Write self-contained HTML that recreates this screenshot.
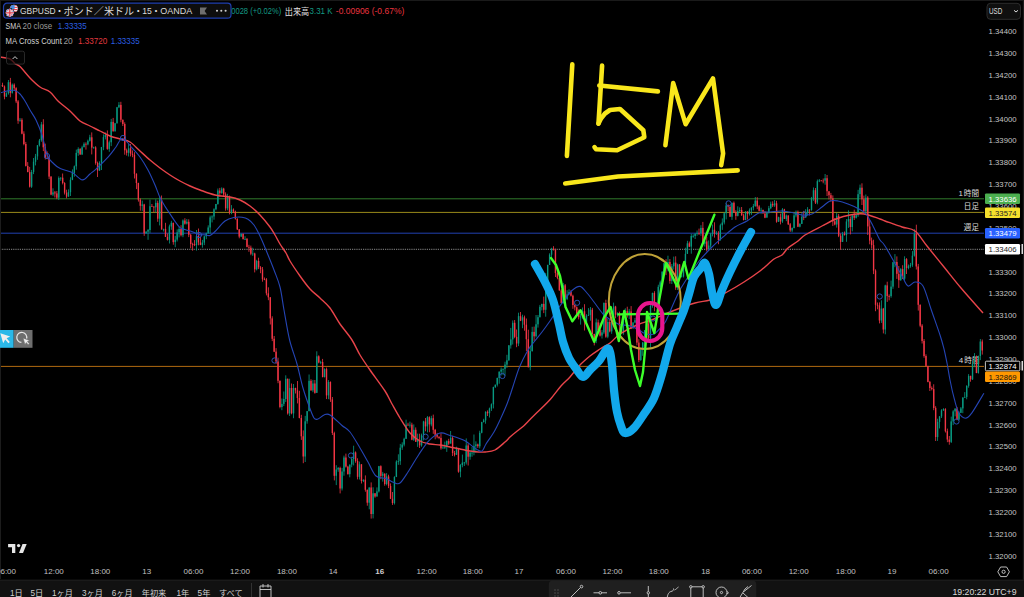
<!DOCTYPE html>
<html><head><meta charset="utf-8">
<style>
*{margin:0;padding:0;box-sizing:border-box}
html,body{width:1024px;height:597px;overflow:hidden;background:#000}
body{position:relative;font-family:"Liberation Sans","Noto Sans CJK JP",sans-serif;color:#d1d4dc}
svg{position:absolute;left:0;top:0}
.t{font-family:"Liberation Sans","Noto Sans CJK JP",sans-serif}
</style></head><body>
<svg width="1024" height="597" viewBox="0 0 1024 597">
<rect x="0" y="0" width="1024" height="597" fill="#000"/>
<line x1="0" y1="198.8" x2="984" y2="198.8" stroke="#2f7a2c" stroke-width="1"/>
<line x1="0" y1="212.4" x2="984" y2="212.4" stroke="#9a8a1a" stroke-width="1"/>
<line x1="0" y1="233.2" x2="984" y2="233.2" stroke="#2041b0" stroke-width="1"/>
<line x1="0" y1="249.3" x2="984" y2="249.3" stroke="#8a8a8a" stroke-width="1" stroke-dasharray="1.2 1"/>
<line x1="0" y1="366.4" x2="984" y2="366.4" stroke="#b06a10" stroke-width="1"/>
<g class="t" font-size="7.6" fill="#dcdcdc" text-anchor="end">
<text x="979" y="195.6">時間</text><text x="963" y="195.6" font-size="8">1</text>
<text x="979" y="208.8">日足</text>
<text x="979" y="229.8">週足</text>
<text x="979.5" y="363.2">時間</text><text x="963.3" y="363.2" font-size="8">4</text>
</g>
<g><rect x="0.20" y="83.8" width="0.8" height="2.8" fill="#089981"/><rect x="-0.10" y="85.1" width="1.4" height="0.9" fill="#089981"/><rect x="2.14" y="82.7" width="0.8" height="4.3" fill="#f23645"/><rect x="1.84" y="85.1" width="1.4" height="1.4" fill="#f23645"/><rect x="4.08" y="85.5" width="0.8" height="13.8" fill="#f23645"/><rect x="3.78" y="86.5" width="1.4" height="10.1" fill="#f23645"/><rect x="6.02" y="92.3" width="0.8" height="4.7" fill="#089981"/><rect x="5.72" y="93.3" width="1.4" height="3.3" fill="#089981"/><rect x="7.96" y="80.0" width="0.8" height="14.6" fill="#089981"/><rect x="7.66" y="82.2" width="1.4" height="11.1" fill="#089981"/><rect x="9.90" y="77.9" width="0.8" height="19.4" fill="#f23645"/><rect x="9.60" y="82.2" width="1.4" height="10.7" fill="#f23645"/><rect x="11.84" y="83.5" width="0.8" height="10.1" fill="#089981"/><rect x="11.54" y="84.7" width="1.4" height="8.1" fill="#089981"/><rect x="13.78" y="83.4" width="0.8" height="6.5" fill="#f23645"/><rect x="13.48" y="84.7" width="1.4" height="3.5" fill="#f23645"/><rect x="15.72" y="87.2" width="0.8" height="15.9" fill="#f23645"/><rect x="15.42" y="88.2" width="1.4" height="13.2" fill="#f23645"/><rect x="17.66" y="100.0" width="0.8" height="23.8" fill="#f23645"/><rect x="17.36" y="101.4" width="1.4" height="19.3" fill="#f23645"/><rect x="19.60" y="118.0" width="0.8" height="3.7" fill="#089981"/><rect x="19.30" y="119.8" width="1.4" height="0.9" fill="#089981"/><rect x="21.54" y="118.2" width="0.8" height="16.1" fill="#f23645"/><rect x="21.24" y="119.8" width="1.4" height="13.9" fill="#f23645"/><rect x="23.48" y="131.3" width="0.8" height="14.0" fill="#f23645"/><rect x="23.18" y="133.7" width="1.4" height="10.3" fill="#f23645"/><rect x="25.42" y="141.9" width="0.8" height="24.6" fill="#f23645"/><rect x="25.12" y="144.0" width="1.4" height="21.9" fill="#f23645"/><rect x="27.36" y="162.1" width="0.8" height="10.1" fill="#f23645"/><rect x="27.06" y="165.9" width="1.4" height="6.2" fill="#f23645"/><rect x="29.30" y="166.9" width="0.8" height="20.6" fill="#f23645"/><rect x="29.00" y="172.1" width="1.4" height="14.6" fill="#f23645"/><rect x="31.24" y="169.9" width="0.8" height="18.0" fill="#089981"/><rect x="30.94" y="172.0" width="1.4" height="14.7" fill="#089981"/><rect x="33.18" y="158.0" width="0.8" height="16.1" fill="#089981"/><rect x="32.88" y="161.7" width="1.4" height="10.2" fill="#089981"/><rect x="35.12" y="153.9" width="0.8" height="11.5" fill="#089981"/><rect x="34.82" y="156.4" width="1.4" height="5.4" fill="#089981"/><rect x="37.06" y="145.0" width="0.8" height="14.8" fill="#089981"/><rect x="36.76" y="145.3" width="1.4" height="11.1" fill="#089981"/><rect x="39.00" y="138.9" width="0.8" height="7.6" fill="#089981"/><rect x="38.70" y="140.5" width="1.4" height="4.8" fill="#089981"/><rect x="40.94" y="121.9" width="0.8" height="19.9" fill="#089981"/><rect x="40.64" y="124.4" width="1.4" height="16.0" fill="#089981"/><rect x="42.88" y="119.2" width="0.8" height="31.9" fill="#f23645"/><rect x="42.58" y="124.4" width="1.4" height="22.9" fill="#f23645"/><rect x="44.82" y="143.6" width="0.8" height="15.9" fill="#f23645"/><rect x="44.52" y="147.3" width="1.4" height="10.6" fill="#f23645"/><rect x="46.76" y="151.4" width="0.8" height="7.8" fill="#f23645"/><rect x="46.46" y="157.9" width="1.4" height="0.8" fill="#f23645"/><rect x="48.70" y="155.4" width="0.8" height="23.7" fill="#f23645"/><rect x="48.40" y="158.3" width="1.4" height="18.3" fill="#f23645"/><rect x="50.64" y="176.2" width="0.8" height="19.0" fill="#f23645"/><rect x="50.34" y="176.6" width="1.4" height="18.0" fill="#f23645"/><rect x="52.58" y="188.3" width="0.8" height="7.8" fill="#089981"/><rect x="52.28" y="192.4" width="1.4" height="2.1" fill="#089981"/><rect x="54.52" y="191.0" width="0.8" height="6.5" fill="#f23645"/><rect x="54.22" y="192.4" width="1.4" height="1.0" fill="#f23645"/><rect x="56.46" y="191.0" width="0.8" height="8.2" fill="#f23645"/><rect x="56.16" y="193.4" width="1.4" height="4.3" fill="#f23645"/><rect x="58.40" y="176.4" width="0.8" height="23.6" fill="#089981"/><rect x="58.10" y="178.0" width="1.4" height="19.7" fill="#089981"/><rect x="60.34" y="177.3" width="0.8" height="3.5" fill="#089981"/><rect x="60.04" y="177.7" width="1.4" height="0.8" fill="#089981"/><rect x="62.28" y="173.5" width="0.8" height="10.9" fill="#f23645"/><rect x="61.98" y="177.7" width="1.4" height="5.3" fill="#f23645"/><rect x="64.22" y="182.2" width="0.8" height="12.3" fill="#f23645"/><rect x="63.92" y="183.0" width="1.4" height="9.7" fill="#f23645"/><rect x="66.16" y="189.7" width="0.8" height="8.6" fill="#f23645"/><rect x="65.86" y="192.7" width="1.4" height="3.9" fill="#f23645"/><rect x="68.10" y="189.4" width="0.8" height="7.3" fill="#089981"/><rect x="67.80" y="192.1" width="1.4" height="4.5" fill="#089981"/><rect x="70.04" y="177.3" width="0.8" height="18.7" fill="#089981"/><rect x="69.74" y="179.8" width="1.4" height="12.4" fill="#089981"/><rect x="71.98" y="169.4" width="0.8" height="10.8" fill="#089981"/><rect x="71.68" y="173.0" width="1.4" height="6.8" fill="#089981"/><rect x="73.92" y="165.5" width="0.8" height="11.2" fill="#089981"/><rect x="73.62" y="166.3" width="1.4" height="6.7" fill="#089981"/><rect x="75.86" y="149.6" width="0.8" height="20.1" fill="#089981"/><rect x="75.56" y="152.9" width="1.4" height="13.4" fill="#089981"/><rect x="77.80" y="147.3" width="0.8" height="8.5" fill="#089981"/><rect x="77.50" y="149.0" width="1.4" height="3.9" fill="#089981"/><rect x="79.74" y="148.1" width="0.8" height="6.7" fill="#f23645"/><rect x="79.44" y="149.0" width="1.4" height="5.5" fill="#f23645"/><rect x="81.68" y="145.7" width="0.8" height="9.2" fill="#089981"/><rect x="81.38" y="147.3" width="1.4" height="7.2" fill="#089981"/><rect x="83.62" y="142.3" width="0.8" height="5.0" fill="#089981"/><rect x="83.32" y="143.8" width="1.4" height="3.4" fill="#089981"/><rect x="85.56" y="142.3" width="0.8" height="7.3" fill="#f23645"/><rect x="85.26" y="143.8" width="1.4" height="0.8" fill="#f23645"/><rect x="87.50" y="139.6" width="0.8" height="5.7" fill="#089981"/><rect x="87.20" y="140.8" width="1.4" height="3.6" fill="#089981"/><rect x="89.44" y="134.8" width="0.8" height="6.8" fill="#089981"/><rect x="89.14" y="137.3" width="1.4" height="3.5" fill="#089981"/><rect x="91.38" y="132.4" width="0.8" height="22.0" fill="#f23645"/><rect x="91.08" y="137.3" width="1.4" height="10.3" fill="#f23645"/><rect x="93.32" y="146.7" width="0.8" height="1.9" fill="#089981"/><rect x="93.02" y="147.4" width="1.4" height="0.8" fill="#089981"/><rect x="95.26" y="146.2" width="0.8" height="18.5" fill="#f23645"/><rect x="94.96" y="147.4" width="1.4" height="15.6" fill="#f23645"/><rect x="97.20" y="161.6" width="0.8" height="15.4" fill="#f23645"/><rect x="96.90" y="163.0" width="1.4" height="7.5" fill="#f23645"/><rect x="99.14" y="161.3" width="0.8" height="9.5" fill="#089981"/><rect x="98.84" y="162.8" width="1.4" height="7.7" fill="#089981"/><rect x="101.08" y="146.9" width="0.8" height="23.1" fill="#089981"/><rect x="100.78" y="147.1" width="1.4" height="15.7" fill="#089981"/><rect x="103.02" y="134.4" width="0.8" height="15.8" fill="#089981"/><rect x="102.72" y="137.1" width="1.4" height="10.0" fill="#089981"/><rect x="104.96" y="132.4" width="0.8" height="7.0" fill="#089981"/><rect x="104.66" y="135.0" width="1.4" height="2.1" fill="#089981"/><rect x="106.90" y="130.4" width="0.8" height="19.4" fill="#f23645"/><rect x="106.60" y="135.0" width="1.4" height="13.9" fill="#f23645"/><rect x="108.84" y="140.6" width="0.8" height="11.2" fill="#089981"/><rect x="108.54" y="142.3" width="1.4" height="6.6" fill="#089981"/><rect x="110.78" y="118.9" width="0.8" height="27.2" fill="#089981"/><rect x="110.48" y="121.9" width="1.4" height="20.4" fill="#089981"/><rect x="112.72" y="117.9" width="0.8" height="13.8" fill="#f23645"/><rect x="112.42" y="121.9" width="1.4" height="9.3" fill="#f23645"/><rect x="114.66" y="122.9" width="0.8" height="8.8" fill="#089981"/><rect x="114.36" y="123.3" width="1.4" height="7.9" fill="#089981"/><rect x="116.60" y="106.9" width="0.8" height="16.6" fill="#089981"/><rect x="116.30" y="107.3" width="1.4" height="16.0" fill="#089981"/><rect x="118.54" y="102.1" width="0.8" height="6.0" fill="#089981"/><rect x="118.24" y="104.9" width="1.4" height="2.4" fill="#089981"/><rect x="120.48" y="101.8" width="0.8" height="20.5" fill="#f23645"/><rect x="120.18" y="104.9" width="1.4" height="14.9" fill="#f23645"/><rect x="122.42" y="119.5" width="0.8" height="6.5" fill="#f23645"/><rect x="122.12" y="119.8" width="1.4" height="4.2" fill="#f23645"/><rect x="124.36" y="122.3" width="0.8" height="32.4" fill="#f23645"/><rect x="124.06" y="124.0" width="1.4" height="26.3" fill="#f23645"/><rect x="126.30" y="148.6" width="0.8" height="7.0" fill="#f23645"/><rect x="126.00" y="150.3" width="1.4" height="2.5" fill="#f23645"/><rect x="128.24" y="144.1" width="0.8" height="12.4" fill="#089981"/><rect x="127.94" y="148.3" width="1.4" height="4.5" fill="#089981"/><rect x="130.18" y="144.0" width="0.8" height="12.4" fill="#f23645"/><rect x="129.88" y="148.3" width="1.4" height="5.4" fill="#f23645"/><rect x="132.12" y="150.4" width="0.8" height="6.8" fill="#f23645"/><rect x="131.82" y="153.8" width="1.4" height="1.1" fill="#f23645"/><rect x="134.06" y="152.2" width="0.8" height="26.3" fill="#f23645"/><rect x="133.76" y="154.9" width="1.4" height="18.9" fill="#f23645"/><rect x="136.00" y="173.3" width="0.8" height="15.8" fill="#f23645"/><rect x="135.70" y="173.8" width="1.4" height="9.2" fill="#f23645"/><rect x="137.94" y="182.7" width="0.8" height="18.9" fill="#f23645"/><rect x="137.64" y="183.0" width="1.4" height="16.7" fill="#f23645"/><rect x="139.88" y="198.3" width="0.8" height="12.4" fill="#f23645"/><rect x="139.58" y="199.7" width="1.4" height="6.1" fill="#f23645"/><rect x="141.82" y="200.6" width="0.8" height="10.3" fill="#089981"/><rect x="141.52" y="204.5" width="1.4" height="1.3" fill="#089981"/><rect x="143.76" y="203.8" width="0.8" height="32.1" fill="#f23645"/><rect x="143.46" y="204.5" width="1.4" height="28.8" fill="#f23645"/><rect x="145.70" y="231.2" width="0.8" height="2.5" fill="#089981"/><rect x="145.40" y="231.7" width="1.4" height="1.6" fill="#089981"/><rect x="147.64" y="229.0" width="0.8" height="10.8" fill="#089981"/><rect x="147.34" y="230.0" width="1.4" height="1.7" fill="#089981"/><rect x="149.58" y="199.6" width="0.8" height="33.3" fill="#089981"/><rect x="149.28" y="206.2" width="1.4" height="23.8" fill="#089981"/><rect x="151.52" y="204.0" width="0.8" height="2.6" fill="#f23645"/><rect x="151.22" y="206.2" width="1.4" height="0.8" fill="#f23645"/><rect x="153.46" y="206.3" width="0.8" height="5.7" fill="#f23645"/><rect x="153.16" y="206.6" width="1.4" height="0.8" fill="#f23645"/><rect x="155.40" y="199.3" width="0.8" height="13.3" fill="#089981"/><rect x="155.10" y="202.9" width="1.4" height="4.4" fill="#089981"/><rect x="157.34" y="200.6" width="0.8" height="21.2" fill="#f23645"/><rect x="157.04" y="202.9" width="1.4" height="15.8" fill="#f23645"/><rect x="159.28" y="196.0" width="0.8" height="29.4" fill="#089981"/><rect x="158.98" y="199.8" width="1.4" height="18.9" fill="#089981"/><rect x="161.22" y="195.5" width="0.8" height="34.0" fill="#f23645"/><rect x="160.92" y="199.8" width="1.4" height="29.7" fill="#f23645"/><rect x="163.16" y="228.8" width="0.8" height="2.7" fill="#089981"/><rect x="162.86" y="228.9" width="1.4" height="0.8" fill="#089981"/><rect x="165.10" y="222.8" width="0.8" height="14.2" fill="#f23645"/><rect x="164.80" y="228.9" width="1.4" height="8.0" fill="#f23645"/><rect x="167.04" y="233.5" width="0.8" height="7.0" fill="#f23645"/><rect x="166.74" y="236.9" width="1.4" height="3.0" fill="#f23645"/><rect x="168.98" y="224.6" width="0.8" height="18.9" fill="#089981"/><rect x="168.68" y="226.4" width="1.4" height="13.4" fill="#089981"/><rect x="170.92" y="220.8" width="0.8" height="9.0" fill="#089981"/><rect x="170.62" y="222.8" width="1.4" height="3.7" fill="#089981"/><rect x="172.86" y="222.7" width="0.8" height="22.0" fill="#f23645"/><rect x="172.56" y="222.8" width="1.4" height="19.3" fill="#f23645"/><rect x="174.80" y="235.8" width="0.8" height="11.4" fill="#089981"/><rect x="174.50" y="239.7" width="1.4" height="2.4" fill="#089981"/><rect x="176.74" y="229.4" width="0.8" height="12.1" fill="#089981"/><rect x="176.44" y="232.4" width="1.4" height="7.2" fill="#089981"/><rect x="178.68" y="226.5" width="0.8" height="10.9" fill="#089981"/><rect x="178.38" y="229.0" width="1.4" height="3.4" fill="#089981"/><rect x="180.62" y="225.2" width="0.8" height="11.2" fill="#f23645"/><rect x="180.32" y="229.0" width="1.4" height="6.2" fill="#f23645"/><rect x="182.56" y="219.4" width="0.8" height="17.8" fill="#089981"/><rect x="182.26" y="220.5" width="1.4" height="14.7" fill="#089981"/><rect x="184.50" y="218.2" width="0.8" height="6.4" fill="#f23645"/><rect x="184.20" y="220.5" width="1.4" height="3.2" fill="#f23645"/><rect x="186.44" y="219.0" width="0.8" height="5.5" fill="#089981"/><rect x="186.14" y="221.8" width="1.4" height="1.8" fill="#089981"/><rect x="188.38" y="219.3" width="0.8" height="17.8" fill="#f23645"/><rect x="188.08" y="221.8" width="1.4" height="13.0" fill="#f23645"/><rect x="190.32" y="233.8" width="0.8" height="14.5" fill="#f23645"/><rect x="190.02" y="234.8" width="1.4" height="9.3" fill="#f23645"/><rect x="192.26" y="242.7" width="0.8" height="8.0" fill="#f23645"/><rect x="191.96" y="244.1" width="1.4" height="0.8" fill="#f23645"/><rect x="194.20" y="240.1" width="0.8" height="6.0" fill="#f23645"/><rect x="193.90" y="244.2" width="1.4" height="1.0" fill="#f23645"/><rect x="196.14" y="230.0" width="0.8" height="20.6" fill="#089981"/><rect x="195.84" y="235.9" width="1.4" height="9.2" fill="#089981"/><rect x="198.08" y="228.5" width="0.8" height="16.8" fill="#f23645"/><rect x="197.78" y="235.9" width="1.4" height="6.5" fill="#f23645"/><rect x="200.02" y="236.7" width="0.8" height="8.5" fill="#f23645"/><rect x="199.72" y="242.5" width="1.4" height="2.4" fill="#f23645"/><rect x="201.96" y="239.9" width="0.8" height="7.8" fill="#089981"/><rect x="201.66" y="242.6" width="1.4" height="2.3" fill="#089981"/><rect x="203.90" y="235.5" width="0.8" height="9.6" fill="#089981"/><rect x="203.60" y="236.4" width="1.4" height="6.2" fill="#089981"/><rect x="205.84" y="232.7" width="0.8" height="6.5" fill="#089981"/><rect x="205.54" y="233.3" width="1.4" height="3.1" fill="#089981"/><rect x="207.78" y="225.3" width="0.8" height="8.3" fill="#089981"/><rect x="207.48" y="227.5" width="1.4" height="5.8" fill="#089981"/><rect x="209.72" y="215.6" width="0.8" height="17.9" fill="#089981"/><rect x="209.42" y="217.4" width="1.4" height="10.1" fill="#089981"/><rect x="211.66" y="215.2" width="0.8" height="7.2" fill="#089981"/><rect x="211.36" y="216.5" width="1.4" height="0.9" fill="#089981"/><rect x="213.60" y="208.3" width="0.8" height="11.4" fill="#089981"/><rect x="213.30" y="209.3" width="1.4" height="7.2" fill="#089981"/><rect x="215.54" y="203.9" width="0.8" height="6.4" fill="#089981"/><rect x="215.24" y="204.0" width="1.4" height="5.3" fill="#089981"/><rect x="217.48" y="188.5" width="0.8" height="16.2" fill="#089981"/><rect x="217.18" y="190.5" width="1.4" height="13.5" fill="#089981"/><rect x="219.42" y="187.9" width="0.8" height="8.8" fill="#f23645"/><rect x="219.12" y="190.5" width="1.4" height="2.6" fill="#f23645"/><rect x="221.36" y="187.3" width="0.8" height="6.4" fill="#089981"/><rect x="221.06" y="188.6" width="1.4" height="4.5" fill="#089981"/><rect x="223.30" y="187.8" width="0.8" height="8.5" fill="#f23645"/><rect x="223.00" y="188.6" width="1.4" height="5.8" fill="#f23645"/><rect x="225.24" y="192.3" width="0.8" height="18.4" fill="#f23645"/><rect x="224.94" y="194.4" width="1.4" height="14.0" fill="#f23645"/><rect x="227.18" y="193.8" width="0.8" height="16.5" fill="#089981"/><rect x="226.88" y="197.2" width="1.4" height="11.1" fill="#089981"/><rect x="229.12" y="195.6" width="0.8" height="18.8" fill="#f23645"/><rect x="228.82" y="197.2" width="1.4" height="15.4" fill="#f23645"/><rect x="231.06" y="205.1" width="0.8" height="9.1" fill="#089981"/><rect x="230.76" y="209.5" width="1.4" height="3.1" fill="#089981"/><rect x="233.00" y="208.4" width="0.8" height="4.6" fill="#f23645"/><rect x="232.70" y="209.5" width="1.4" height="2.0" fill="#f23645"/><rect x="234.94" y="210.6" width="0.8" height="9.0" fill="#f23645"/><rect x="234.64" y="211.5" width="1.4" height="7.2" fill="#f23645"/><rect x="236.88" y="218.3" width="0.8" height="11.7" fill="#f23645"/><rect x="236.58" y="218.8" width="1.4" height="10.6" fill="#f23645"/><rect x="238.82" y="229.2" width="0.8" height="9.1" fill="#f23645"/><rect x="238.52" y="229.3" width="1.4" height="7.3" fill="#f23645"/><rect x="240.76" y="233.7" width="0.8" height="3.2" fill="#089981"/><rect x="240.46" y="233.7" width="1.4" height="2.9" fill="#089981"/><rect x="242.70" y="233.7" width="0.8" height="5.8" fill="#f23645"/><rect x="242.40" y="233.7" width="1.4" height="5.4" fill="#f23645"/><rect x="244.64" y="236.2" width="0.8" height="3.8" fill="#089981"/><rect x="244.34" y="238.9" width="1.4" height="0.8" fill="#089981"/><rect x="246.58" y="238.0" width="0.8" height="9.3" fill="#f23645"/><rect x="246.28" y="238.9" width="1.4" height="8.0" fill="#f23645"/><rect x="248.52" y="244.8" width="0.8" height="7.0" fill="#f23645"/><rect x="248.22" y="246.9" width="1.4" height="0.8" fill="#f23645"/><rect x="250.46" y="245.6" width="0.8" height="9.6" fill="#f23645"/><rect x="250.16" y="247.7" width="1.4" height="6.0" fill="#f23645"/><rect x="252.40" y="247.7" width="0.8" height="8.2" fill="#089981"/><rect x="252.10" y="253.5" width="1.4" height="0.8" fill="#089981"/><rect x="254.34" y="252.7" width="0.8" height="19.7" fill="#f23645"/><rect x="254.04" y="253.5" width="1.4" height="15.8" fill="#f23645"/><rect x="256.28" y="259.8" width="0.8" height="10.6" fill="#089981"/><rect x="255.98" y="261.0" width="1.4" height="8.3" fill="#089981"/><rect x="258.22" y="257.7" width="0.8" height="11.4" fill="#f23645"/><rect x="257.92" y="261.0" width="1.4" height="6.4" fill="#f23645"/><rect x="260.16" y="266.1" width="0.8" height="7.1" fill="#f23645"/><rect x="259.86" y="267.4" width="1.4" height="1.9" fill="#f23645"/><rect x="262.10" y="267.0" width="0.8" height="14.7" fill="#f23645"/><rect x="261.80" y="269.4" width="1.4" height="9.8" fill="#f23645"/><rect x="264.04" y="277.5" width="0.8" height="2.7" fill="#f23645"/><rect x="263.74" y="279.2" width="1.4" height="0.8" fill="#f23645"/><rect x="265.98" y="278.1" width="0.8" height="17.3" fill="#f23645"/><rect x="265.68" y="279.5" width="1.4" height="13.8" fill="#f23645"/><rect x="267.92" y="287.3" width="0.8" height="12.9" fill="#f23645"/><rect x="267.62" y="293.3" width="1.4" height="4.0" fill="#f23645"/><rect x="269.86" y="297.1" width="0.8" height="27.4" fill="#f23645"/><rect x="269.56" y="297.3" width="1.4" height="21.1" fill="#f23645"/><rect x="271.80" y="316.3" width="0.8" height="24.8" fill="#f23645"/><rect x="271.50" y="318.4" width="1.4" height="20.4" fill="#f23645"/><rect x="273.74" y="336.0" width="0.8" height="16.1" fill="#f23645"/><rect x="273.44" y="338.8" width="1.4" height="12.9" fill="#f23645"/><rect x="275.68" y="348.1" width="0.8" height="15.8" fill="#f23645"/><rect x="275.38" y="351.6" width="1.4" height="9.9" fill="#f23645"/><rect x="277.62" y="357.7" width="0.8" height="25.5" fill="#f23645"/><rect x="277.32" y="361.5" width="1.4" height="19.3" fill="#f23645"/><rect x="279.56" y="380.5" width="0.8" height="27.8" fill="#f23645"/><rect x="279.26" y="380.8" width="1.4" height="26.2" fill="#f23645"/><rect x="281.50" y="398.5" width="0.8" height="11.7" fill="#089981"/><rect x="281.20" y="403.9" width="1.4" height="3.1" fill="#089981"/><rect x="283.44" y="391.5" width="0.8" height="14.6" fill="#089981"/><rect x="283.14" y="399.0" width="1.4" height="4.9" fill="#089981"/><rect x="285.38" y="375.3" width="0.8" height="26.6" fill="#089981"/><rect x="285.08" y="378.8" width="1.4" height="20.2" fill="#089981"/><rect x="287.32" y="378.5" width="0.8" height="36.1" fill="#f23645"/><rect x="287.02" y="378.8" width="1.4" height="34.6" fill="#f23645"/><rect x="289.26" y="378.7" width="0.8" height="37.3" fill="#089981"/><rect x="288.96" y="388.0" width="1.4" height="25.4" fill="#089981"/><rect x="291.20" y="383.5" width="0.8" height="30.8" fill="#f23645"/><rect x="290.90" y="388.0" width="1.4" height="25.3" fill="#f23645"/><rect x="293.14" y="384.0" width="0.8" height="34.2" fill="#089981"/><rect x="292.84" y="388.0" width="1.4" height="25.4" fill="#089981"/><rect x="295.08" y="387.7" width="0.8" height="5.8" fill="#f23645"/><rect x="294.78" y="388.0" width="1.4" height="2.4" fill="#f23645"/><rect x="297.02" y="381.0" width="0.8" height="22.4" fill="#f23645"/><rect x="296.72" y="390.3" width="1.4" height="7.7" fill="#f23645"/><rect x="298.96" y="390.8" width="0.8" height="27.4" fill="#f23645"/><rect x="298.66" y="398.0" width="1.4" height="20.1" fill="#f23645"/><rect x="300.90" y="414.8" width="0.8" height="25.1" fill="#f23645"/><rect x="300.60" y="418.0" width="1.4" height="18.3" fill="#f23645"/><rect x="302.84" y="430.4" width="0.8" height="32.8" fill="#f23645"/><rect x="302.54" y="436.3" width="1.4" height="20.2" fill="#f23645"/><rect x="304.78" y="415.9" width="0.8" height="46.1" fill="#089981"/><rect x="304.48" y="421.3" width="1.4" height="35.2" fill="#089981"/><rect x="306.72" y="411.1" width="0.8" height="12.6" fill="#089981"/><rect x="306.42" y="411.1" width="1.4" height="10.1" fill="#089981"/><rect x="308.66" y="374.5" width="0.8" height="36.8" fill="#089981"/><rect x="308.36" y="380.8" width="1.4" height="30.3" fill="#089981"/><rect x="310.60" y="379.2" width="0.8" height="11.5" fill="#f23645"/><rect x="310.30" y="380.8" width="1.4" height="9.6" fill="#f23645"/><rect x="312.54" y="379.9" width="0.8" height="12.3" fill="#089981"/><rect x="312.24" y="383.5" width="1.4" height="6.9" fill="#089981"/><rect x="314.48" y="380.0" width="0.8" height="13.7" fill="#f23645"/><rect x="314.18" y="383.5" width="1.4" height="9.4" fill="#f23645"/><rect x="316.42" y="351.3" width="0.8" height="41.7" fill="#089981"/><rect x="316.12" y="356.3" width="1.4" height="36.5" fill="#089981"/><rect x="318.36" y="355.3" width="0.8" height="8.0" fill="#f23645"/><rect x="318.06" y="356.3" width="1.4" height="6.2" fill="#f23645"/><rect x="320.30" y="360.7" width="0.8" height="3.5" fill="#089981"/><rect x="320.00" y="362.0" width="1.4" height="0.8" fill="#089981"/><rect x="322.24" y="358.9" width="0.8" height="18.4" fill="#f23645"/><rect x="321.94" y="362.0" width="1.4" height="15.1" fill="#f23645"/><rect x="324.18" y="368.3" width="0.8" height="9.1" fill="#089981"/><rect x="323.88" y="369.1" width="1.4" height="8.0" fill="#089981"/><rect x="326.12" y="367.6" width="0.8" height="31.5" fill="#f23645"/><rect x="325.82" y="369.1" width="1.4" height="26.3" fill="#f23645"/><rect x="328.06" y="380.1" width="0.8" height="19.1" fill="#089981"/><rect x="327.76" y="382.0" width="1.4" height="13.4" fill="#089981"/><rect x="330.00" y="381.4" width="0.8" height="20.5" fill="#f23645"/><rect x="329.70" y="382.0" width="1.4" height="17.5" fill="#f23645"/><rect x="331.94" y="397.0" width="0.8" height="38.0" fill="#f23645"/><rect x="331.64" y="399.4" width="1.4" height="33.6" fill="#f23645"/><rect x="333.88" y="431.7" width="0.8" height="48.7" fill="#f23645"/><rect x="333.58" y="433.1" width="1.4" height="42.7" fill="#f23645"/><rect x="335.82" y="465.2" width="0.8" height="19.9" fill="#089981"/><rect x="335.52" y="469.5" width="1.4" height="6.3" fill="#089981"/><rect x="337.76" y="467.0" width="0.8" height="4.8" fill="#089981"/><rect x="337.46" y="468.0" width="1.4" height="1.5" fill="#089981"/><rect x="339.70" y="466.7" width="0.8" height="26.7" fill="#f23645"/><rect x="339.40" y="468.0" width="1.4" height="20.5" fill="#f23645"/><rect x="341.64" y="467.9" width="0.8" height="22.6" fill="#089981"/><rect x="341.34" y="471.5" width="1.4" height="17.0" fill="#089981"/><rect x="343.58" y="455.6" width="0.8" height="20.1" fill="#089981"/><rect x="343.28" y="457.5" width="1.4" height="14.0" fill="#089981"/><rect x="345.52" y="453.6" width="0.8" height="14.0" fill="#f23645"/><rect x="345.22" y="457.5" width="1.4" height="9.1" fill="#f23645"/><rect x="347.46" y="465.8" width="0.8" height="8.5" fill="#f23645"/><rect x="347.16" y="466.7" width="1.4" height="7.6" fill="#f23645"/><rect x="349.40" y="464.5" width="0.8" height="12.8" fill="#089981"/><rect x="349.10" y="464.6" width="1.4" height="9.6" fill="#089981"/><rect x="351.34" y="456.8" width="0.8" height="10.5" fill="#089981"/><rect x="351.04" y="459.0" width="1.4" height="5.6" fill="#089981"/><rect x="353.28" y="445.7" width="0.8" height="19.7" fill="#089981"/><rect x="352.98" y="452.4" width="1.4" height="6.6" fill="#089981"/><rect x="355.22" y="451.4" width="0.8" height="11.3" fill="#f23645"/><rect x="354.92" y="452.4" width="1.4" height="8.6" fill="#f23645"/><rect x="357.16" y="458.3" width="0.8" height="21.1" fill="#f23645"/><rect x="356.86" y="461.0" width="1.4" height="15.8" fill="#f23645"/><rect x="359.10" y="461.6" width="0.8" height="17.9" fill="#089981"/><rect x="358.80" y="464.3" width="1.4" height="12.6" fill="#089981"/><rect x="361.04" y="464.2" width="0.8" height="19.3" fill="#f23645"/><rect x="360.74" y="464.3" width="1.4" height="16.7" fill="#f23645"/><rect x="362.98" y="479.5" width="0.8" height="2.6" fill="#089981"/><rect x="362.68" y="479.7" width="1.4" height="1.2" fill="#089981"/><rect x="364.92" y="475.4" width="0.8" height="16.3" fill="#f23645"/><rect x="364.62" y="479.7" width="1.4" height="10.1" fill="#f23645"/><rect x="366.86" y="489.7" width="0.8" height="16.0" fill="#f23645"/><rect x="366.56" y="489.7" width="1.4" height="13.0" fill="#f23645"/><rect x="368.80" y="487.3" width="0.8" height="22.0" fill="#089981"/><rect x="368.50" y="487.5" width="1.4" height="15.2" fill="#089981"/><rect x="370.74" y="482.4" width="0.8" height="36.2" fill="#f23645"/><rect x="370.44" y="487.5" width="1.4" height="26.5" fill="#f23645"/><rect x="372.68" y="487.3" width="0.8" height="31.1" fill="#089981"/><rect x="372.38" y="493.3" width="1.4" height="20.7" fill="#089981"/><rect x="374.62" y="493.1" width="0.8" height="4.6" fill="#f23645"/><rect x="374.32" y="493.3" width="1.4" height="3.2" fill="#f23645"/><rect x="376.56" y="487.4" width="0.8" height="9.2" fill="#089981"/><rect x="376.26" y="491.4" width="1.4" height="5.1" fill="#089981"/><rect x="378.50" y="465.9" width="0.8" height="26.6" fill="#089981"/><rect x="378.20" y="466.2" width="1.4" height="25.2" fill="#089981"/><rect x="380.44" y="465.3" width="0.8" height="13.9" fill="#f23645"/><rect x="380.14" y="466.2" width="1.4" height="9.7" fill="#f23645"/><rect x="382.38" y="471.9" width="0.8" height="9.7" fill="#089981"/><rect x="382.08" y="473.7" width="1.4" height="2.1" fill="#089981"/><rect x="384.32" y="473.3" width="0.8" height="12.4" fill="#f23645"/><rect x="384.02" y="473.7" width="1.4" height="10.3" fill="#f23645"/><rect x="386.26" y="473.1" width="0.8" height="12.2" fill="#089981"/><rect x="385.96" y="476.5" width="1.4" height="7.5" fill="#089981"/><rect x="388.20" y="474.7" width="0.8" height="13.4" fill="#f23645"/><rect x="387.90" y="476.5" width="1.4" height="9.4" fill="#f23645"/><rect x="390.14" y="483.4" width="0.8" height="15.4" fill="#f23645"/><rect x="389.84" y="486.0" width="1.4" height="12.8" fill="#f23645"/><rect x="392.08" y="492.0" width="0.8" height="12.9" fill="#f23645"/><rect x="391.78" y="498.8" width="1.4" height="4.2" fill="#f23645"/><rect x="394.02" y="476.3" width="0.8" height="28.2" fill="#089981"/><rect x="393.72" y="476.9" width="1.4" height="26.2" fill="#089981"/><rect x="395.96" y="460.3" width="0.8" height="16.8" fill="#089981"/><rect x="395.66" y="461.6" width="1.4" height="15.3" fill="#089981"/><rect x="397.90" y="454.3" width="0.8" height="10.5" fill="#089981"/><rect x="397.60" y="461.1" width="1.4" height="0.8" fill="#089981"/><rect x="399.84" y="443.9" width="0.8" height="21.0" fill="#089981"/><rect x="399.54" y="447.7" width="1.4" height="13.5" fill="#089981"/><rect x="401.78" y="442.3" width="0.8" height="7.6" fill="#089981"/><rect x="401.48" y="444.6" width="1.4" height="3.0" fill="#089981"/><rect x="403.72" y="437.7" width="0.8" height="8.7" fill="#089981"/><rect x="403.42" y="438.8" width="1.4" height="5.8" fill="#089981"/><rect x="405.66" y="419.7" width="0.8" height="19.3" fill="#089981"/><rect x="405.36" y="424.7" width="1.4" height="14.1" fill="#089981"/><rect x="407.60" y="422.8" width="0.8" height="2.8" fill="#f23645"/><rect x="407.30" y="424.7" width="1.4" height="0.8" fill="#f23645"/><rect x="409.54" y="421.6" width="0.8" height="6.0" fill="#089981"/><rect x="409.24" y="424.7" width="1.4" height="0.8" fill="#089981"/><rect x="411.48" y="422.7" width="0.8" height="17.5" fill="#f23645"/><rect x="411.18" y="424.7" width="1.4" height="15.0" fill="#f23645"/><rect x="413.42" y="424.4" width="0.8" height="16.5" fill="#089981"/><rect x="413.12" y="429.8" width="1.4" height="9.9" fill="#089981"/><rect x="415.36" y="427.4" width="0.8" height="14.5" fill="#f23645"/><rect x="415.06" y="429.8" width="1.4" height="12.0" fill="#f23645"/><rect x="417.30" y="433.6" width="0.8" height="13.3" fill="#089981"/><rect x="417.00" y="439.9" width="1.4" height="1.9" fill="#089981"/><rect x="419.24" y="433.7" width="0.8" height="14.3" fill="#f23645"/><rect x="418.94" y="439.9" width="1.4" height="5.5" fill="#f23645"/><rect x="421.18" y="433.6" width="0.8" height="13.1" fill="#089981"/><rect x="420.88" y="435.2" width="1.4" height="10.2" fill="#089981"/><rect x="423.12" y="420.8" width="0.8" height="19.6" fill="#089981"/><rect x="422.82" y="421.5" width="1.4" height="13.7" fill="#089981"/><rect x="425.06" y="418.0" width="0.8" height="13.3" fill="#f23645"/><rect x="424.76" y="421.5" width="1.4" height="4.9" fill="#f23645"/><rect x="427.00" y="416.1" width="0.8" height="16.3" fill="#089981"/><rect x="426.70" y="417.2" width="1.4" height="9.2" fill="#089981"/><rect x="428.94" y="416.4" width="0.8" height="15.8" fill="#f23645"/><rect x="428.64" y="417.2" width="1.4" height="7.2" fill="#f23645"/><rect x="430.88" y="415.8" width="0.8" height="10.5" fill="#089981"/><rect x="430.58" y="418.2" width="1.4" height="6.3" fill="#089981"/><rect x="432.82" y="414.6" width="0.8" height="19.2" fill="#f23645"/><rect x="432.52" y="418.2" width="1.4" height="11.6" fill="#f23645"/><rect x="434.76" y="428.9" width="0.8" height="10.4" fill="#f23645"/><rect x="434.46" y="429.8" width="1.4" height="5.0" fill="#f23645"/><rect x="436.70" y="432.9" width="0.8" height="5.4" fill="#f23645"/><rect x="436.40" y="434.8" width="1.4" height="1.9" fill="#f23645"/><rect x="438.64" y="436.4" width="0.8" height="2.8" fill="#f23645"/><rect x="438.34" y="436.7" width="1.4" height="1.3" fill="#f23645"/><rect x="440.58" y="433.2" width="0.8" height="16.5" fill="#f23645"/><rect x="440.28" y="437.9" width="1.4" height="10.4" fill="#f23645"/><rect x="442.52" y="445.0" width="0.8" height="3.6" fill="#089981"/><rect x="442.22" y="447.6" width="1.4" height="0.8" fill="#089981"/><rect x="444.46" y="441.6" width="0.8" height="7.4" fill="#089981"/><rect x="444.16" y="446.8" width="1.4" height="0.9" fill="#089981"/><rect x="446.40" y="440.4" width="0.8" height="11.5" fill="#089981"/><rect x="446.10" y="441.1" width="1.4" height="5.7" fill="#089981"/><rect x="448.34" y="438.8" width="0.8" height="6.1" fill="#f23645"/><rect x="448.04" y="441.1" width="1.4" height="2.5" fill="#f23645"/><rect x="450.28" y="431.0" width="0.8" height="12.6" fill="#089981"/><rect x="449.98" y="437.8" width="1.4" height="5.8" fill="#089981"/><rect x="452.22" y="435.9" width="0.8" height="20.1" fill="#f23645"/><rect x="451.92" y="437.8" width="1.4" height="15.2" fill="#f23645"/><rect x="454.16" y="450.9" width="0.8" height="5.5" fill="#f23645"/><rect x="453.86" y="453.0" width="1.4" height="1.8" fill="#f23645"/><rect x="456.10" y="446.7" width="0.8" height="8.2" fill="#089981"/><rect x="455.80" y="449.0" width="1.4" height="5.8" fill="#089981"/><rect x="458.04" y="448.4" width="0.8" height="24.3" fill="#f23645"/><rect x="457.74" y="449.0" width="1.4" height="22.7" fill="#f23645"/><rect x="459.98" y="464.1" width="0.8" height="13.2" fill="#089981"/><rect x="459.68" y="465.1" width="1.4" height="6.6" fill="#089981"/><rect x="461.92" y="454.6" width="0.8" height="12.7" fill="#089981"/><rect x="461.62" y="462.6" width="1.4" height="2.5" fill="#089981"/><rect x="463.86" y="461.9" width="0.8" height="4.1" fill="#089981"/><rect x="463.56" y="462.5" width="1.4" height="0.8" fill="#089981"/><rect x="465.80" y="438.4" width="0.8" height="26.1" fill="#089981"/><rect x="465.50" y="445.5" width="1.4" height="17.0" fill="#089981"/><rect x="467.74" y="443.4" width="0.8" height="22.1" fill="#f23645"/><rect x="467.44" y="445.5" width="1.4" height="11.2" fill="#f23645"/><rect x="469.68" y="451.7" width="0.8" height="8.0" fill="#089981"/><rect x="469.38" y="452.6" width="1.4" height="4.1" fill="#089981"/><rect x="471.62" y="447.0" width="0.8" height="9.7" fill="#089981"/><rect x="471.32" y="452.6" width="1.4" height="0.8" fill="#089981"/><rect x="473.56" y="434.5" width="0.8" height="20.8" fill="#089981"/><rect x="473.26" y="445.9" width="1.4" height="6.7" fill="#089981"/><rect x="475.50" y="441.3" width="0.8" height="11.7" fill="#089981"/><rect x="475.20" y="444.4" width="1.4" height="1.5" fill="#089981"/><rect x="477.44" y="443.6" width="0.8" height="4.3" fill="#f23645"/><rect x="477.14" y="444.4" width="1.4" height="1.8" fill="#f23645"/><rect x="479.38" y="430.7" width="0.8" height="17.7" fill="#089981"/><rect x="479.08" y="432.8" width="1.4" height="13.5" fill="#089981"/><rect x="481.32" y="421.8" width="0.8" height="11.5" fill="#089981"/><rect x="481.02" y="422.1" width="1.4" height="10.7" fill="#089981"/><rect x="483.26" y="418.8" width="0.8" height="3.7" fill="#089981"/><rect x="482.96" y="420.3" width="1.4" height="1.7" fill="#089981"/><rect x="485.20" y="411.3" width="0.8" height="12.4" fill="#089981"/><rect x="484.90" y="411.8" width="1.4" height="8.6" fill="#089981"/><rect x="487.14" y="410.4" width="0.8" height="5.6" fill="#f23645"/><rect x="486.84" y="411.8" width="1.4" height="1.5" fill="#f23645"/><rect x="489.08" y="407.6" width="0.8" height="9.9" fill="#089981"/><rect x="488.78" y="408.5" width="1.4" height="4.7" fill="#089981"/><rect x="491.02" y="403.4" width="0.8" height="7.5" fill="#089981"/><rect x="490.72" y="404.3" width="1.4" height="4.2" fill="#089981"/><rect x="492.96" y="386.7" width="0.8" height="21.7" fill="#089981"/><rect x="492.66" y="387.1" width="1.4" height="17.2" fill="#089981"/><rect x="494.90" y="384.6" width="0.8" height="3.3" fill="#089981"/><rect x="494.60" y="384.7" width="1.4" height="2.5" fill="#089981"/><rect x="496.84" y="377.7" width="0.8" height="8.8" fill="#089981"/><rect x="496.54" y="377.9" width="1.4" height="6.8" fill="#089981"/><rect x="498.78" y="371.5" width="0.8" height="12.2" fill="#089981"/><rect x="498.48" y="371.6" width="1.4" height="6.4" fill="#089981"/><rect x="500.72" y="367.5" width="0.8" height="8.0" fill="#089981"/><rect x="500.42" y="369.6" width="1.4" height="2.0" fill="#089981"/><rect x="502.66" y="368.5" width="0.8" height="6.6" fill="#089981"/><rect x="502.36" y="368.9" width="1.4" height="0.8" fill="#089981"/><rect x="504.60" y="361.7" width="0.8" height="14.0" fill="#089981"/><rect x="504.30" y="364.6" width="1.4" height="4.3" fill="#089981"/><rect x="506.54" y="354.8" width="0.8" height="13.1" fill="#089981"/><rect x="506.24" y="360.3" width="1.4" height="4.3" fill="#089981"/><rect x="508.48" y="345.0" width="0.8" height="15.8" fill="#089981"/><rect x="508.18" y="345.4" width="1.4" height="14.9" fill="#089981"/><rect x="510.42" y="327.9" width="0.8" height="20.7" fill="#089981"/><rect x="510.12" y="339.4" width="1.4" height="6.0" fill="#089981"/><rect x="512.36" y="320.4" width="0.8" height="24.1" fill="#089981"/><rect x="512.06" y="322.8" width="1.4" height="16.6" fill="#089981"/><rect x="514.30" y="320.0" width="0.8" height="18.2" fill="#f23645"/><rect x="514.00" y="322.8" width="1.4" height="14.1" fill="#f23645"/><rect x="516.24" y="329.5" width="0.8" height="17.7" fill="#f23645"/><rect x="515.94" y="336.9" width="1.4" height="6.6" fill="#f23645"/><rect x="518.18" y="312.7" width="0.8" height="33.4" fill="#089981"/><rect x="517.88" y="316.1" width="1.4" height="27.4" fill="#089981"/><rect x="520.12" y="312.0" width="0.8" height="9.1" fill="#f23645"/><rect x="519.82" y="316.1" width="1.4" height="4.6" fill="#f23645"/><rect x="522.06" y="314.7" width="0.8" height="13.5" fill="#089981"/><rect x="521.76" y="317.3" width="1.4" height="3.3" fill="#089981"/><rect x="524.00" y="315.6" width="0.8" height="15.1" fill="#f23645"/><rect x="523.70" y="317.3" width="1.4" height="7.4" fill="#f23645"/><rect x="525.94" y="318.5" width="0.8" height="32.6" fill="#f23645"/><rect x="525.64" y="324.7" width="1.4" height="14.5" fill="#f23645"/><rect x="527.88" y="329.7" width="0.8" height="37.7" fill="#f23645"/><rect x="527.58" y="339.2" width="1.4" height="28.0" fill="#f23645"/><rect x="529.82" y="346.4" width="0.8" height="23.9" fill="#089981"/><rect x="529.52" y="351.1" width="1.4" height="16.1" fill="#089981"/><rect x="531.76" y="326.8" width="0.8" height="24.8" fill="#089981"/><rect x="531.46" y="331.9" width="1.4" height="19.2" fill="#089981"/><rect x="533.70" y="326.6" width="0.8" height="14.6" fill="#f23645"/><rect x="533.40" y="331.9" width="1.4" height="4.4" fill="#f23645"/><rect x="535.64" y="315.0" width="0.8" height="22.5" fill="#089981"/><rect x="535.34" y="324.3" width="1.4" height="11.9" fill="#089981"/><rect x="537.58" y="315.0" width="0.8" height="12.6" fill="#089981"/><rect x="537.28" y="317.2" width="1.4" height="7.1" fill="#089981"/><rect x="539.52" y="304.9" width="0.8" height="12.5" fill="#089981"/><rect x="539.22" y="306.8" width="1.4" height="10.4" fill="#089981"/><rect x="541.46" y="303.8" width="0.8" height="6.6" fill="#089981"/><rect x="541.16" y="303.9" width="1.4" height="3.0" fill="#089981"/><rect x="543.40" y="296.6" width="0.8" height="16.5" fill="#f23645"/><rect x="543.10" y="303.9" width="1.4" height="5.9" fill="#f23645"/><rect x="545.34" y="272.9" width="0.8" height="43.8" fill="#089981"/><rect x="545.04" y="282.1" width="1.4" height="27.7" fill="#089981"/><rect x="547.28" y="264.8" width="0.8" height="18.9" fill="#089981"/><rect x="546.98" y="264.9" width="1.4" height="17.2" fill="#089981"/><rect x="549.22" y="253.3" width="0.8" height="11.7" fill="#089981"/><rect x="548.92" y="254.7" width="1.4" height="10.2" fill="#089981"/><rect x="551.16" y="247.8" width="0.8" height="10.5" fill="#089981"/><rect x="550.86" y="248.7" width="1.4" height="6.0" fill="#089981"/><rect x="553.10" y="246.2" width="0.8" height="4.3" fill="#f23645"/><rect x="552.80" y="248.7" width="1.4" height="1.2" fill="#f23645"/><rect x="555.04" y="248.6" width="0.8" height="28.4" fill="#f23645"/><rect x="554.74" y="249.9" width="1.4" height="23.1" fill="#f23645"/><rect x="556.98" y="270.4" width="0.8" height="8.9" fill="#f23645"/><rect x="556.68" y="273.0" width="1.4" height="4.9" fill="#f23645"/><rect x="558.92" y="275.5" width="0.8" height="15.2" fill="#f23645"/><rect x="558.62" y="278.0" width="1.4" height="12.4" fill="#f23645"/><rect x="560.86" y="289.0" width="0.8" height="14.6" fill="#f23645"/><rect x="560.56" y="290.4" width="1.4" height="12.7" fill="#f23645"/><rect x="562.80" y="282.9" width="0.8" height="20.8" fill="#089981"/><rect x="562.50" y="285.3" width="1.4" height="17.7" fill="#089981"/><rect x="564.74" y="284.0" width="0.8" height="16.5" fill="#f23645"/><rect x="564.44" y="285.3" width="1.4" height="13.5" fill="#f23645"/><rect x="566.68" y="290.2" width="0.8" height="9.9" fill="#089981"/><rect x="566.38" y="294.4" width="1.4" height="4.5" fill="#089981"/><rect x="568.62" y="289.3" width="0.8" height="5.3" fill="#089981"/><rect x="568.32" y="292.0" width="1.4" height="2.3" fill="#089981"/><rect x="570.56" y="290.2" width="0.8" height="6.3" fill="#f23645"/><rect x="570.26" y="292.0" width="1.4" height="3.7" fill="#f23645"/><rect x="572.50" y="294.7" width="0.8" height="14.1" fill="#f23645"/><rect x="572.20" y="295.8" width="1.4" height="9.2" fill="#f23645"/><rect x="574.44" y="304.4" width="0.8" height="6.0" fill="#f23645"/><rect x="574.14" y="305.0" width="1.4" height="2.3" fill="#f23645"/><rect x="576.38" y="306.4" width="0.8" height="8.3" fill="#f23645"/><rect x="576.08" y="307.3" width="1.4" height="6.4" fill="#f23645"/><rect x="578.32" y="309.4" width="0.8" height="10.0" fill="#f23645"/><rect x="578.02" y="313.6" width="1.4" height="3.6" fill="#f23645"/><rect x="580.26" y="313.8" width="0.8" height="10.8" fill="#089981"/><rect x="579.96" y="316.6" width="1.4" height="0.8" fill="#089981"/><rect x="582.20" y="307.5" width="0.8" height="11.2" fill="#089981"/><rect x="581.90" y="311.3" width="1.4" height="5.3" fill="#089981"/><rect x="584.14" y="304.2" width="0.8" height="26.3" fill="#f23645"/><rect x="583.84" y="311.3" width="1.4" height="11.0" fill="#f23645"/><rect x="586.08" y="314.2" width="0.8" height="8.4" fill="#089981"/><rect x="585.78" y="315.8" width="1.4" height="6.5" fill="#089981"/><rect x="588.02" y="308.1" width="0.8" height="7.9" fill="#089981"/><rect x="587.72" y="315.1" width="1.4" height="0.8" fill="#089981"/><rect x="589.96" y="307.0" width="0.8" height="13.7" fill="#089981"/><rect x="589.66" y="309.7" width="1.4" height="5.4" fill="#089981"/><rect x="591.90" y="307.9" width="0.8" height="26.7" fill="#f23645"/><rect x="591.60" y="309.7" width="1.4" height="24.3" fill="#f23645"/><rect x="593.84" y="333.7" width="0.8" height="11.7" fill="#f23645"/><rect x="593.54" y="334.0" width="1.4" height="6.8" fill="#f23645"/><rect x="595.78" y="318.5" width="0.8" height="24.7" fill="#089981"/><rect x="595.48" y="322.4" width="1.4" height="18.4" fill="#089981"/><rect x="597.72" y="319.6" width="0.8" height="12.2" fill="#f23645"/><rect x="597.42" y="322.4" width="1.4" height="7.7" fill="#f23645"/><rect x="599.66" y="322.7" width="0.8" height="13.8" fill="#f23645"/><rect x="599.36" y="330.2" width="1.4" height="5.4" fill="#f23645"/><rect x="601.60" y="330.0" width="0.8" height="8.5" fill="#089981"/><rect x="601.30" y="332.4" width="1.4" height="3.1" fill="#089981"/><rect x="603.54" y="302.4" width="0.8" height="31.7" fill="#089981"/><rect x="603.24" y="303.0" width="1.4" height="29.5" fill="#089981"/><rect x="605.48" y="299.7" width="0.8" height="38.1" fill="#f23645"/><rect x="605.18" y="303.0" width="1.4" height="33.7" fill="#f23645"/><rect x="607.42" y="318.9" width="0.8" height="19.3" fill="#089981"/><rect x="607.12" y="322.0" width="1.4" height="14.7" fill="#089981"/><rect x="609.36" y="319.2" width="0.8" height="13.1" fill="#f23645"/><rect x="609.06" y="322.0" width="1.4" height="9.4" fill="#f23645"/><rect x="611.30" y="317.2" width="0.8" height="16.6" fill="#089981"/><rect x="611.00" y="317.8" width="1.4" height="13.6" fill="#089981"/><rect x="613.24" y="302.6" width="0.8" height="16.2" fill="#089981"/><rect x="612.94" y="306.5" width="1.4" height="11.2" fill="#089981"/><rect x="615.18" y="305.8" width="0.8" height="12.5" fill="#f23645"/><rect x="614.88" y="306.5" width="1.4" height="8.2" fill="#f23645"/><rect x="617.12" y="312.4" width="0.8" height="4.3" fill="#089981"/><rect x="616.82" y="312.8" width="1.4" height="1.9" fill="#089981"/><rect x="619.06" y="311.6" width="0.8" height="21.8" fill="#f23645"/><rect x="618.76" y="312.8" width="1.4" height="12.8" fill="#f23645"/><rect x="621.00" y="324.4" width="0.8" height="8.8" fill="#f23645"/><rect x="620.70" y="325.6" width="1.4" height="7.5" fill="#f23645"/><rect x="622.94" y="319.0" width="0.8" height="15.8" fill="#089981"/><rect x="622.64" y="320.0" width="1.4" height="13.2" fill="#089981"/><rect x="624.88" y="308.3" width="0.8" height="14.0" fill="#089981"/><rect x="624.58" y="311.1" width="1.4" height="8.9" fill="#089981"/><rect x="626.82" y="306.7" width="0.8" height="10.9" fill="#f23645"/><rect x="626.52" y="311.1" width="1.4" height="4.0" fill="#f23645"/><rect x="628.76" y="308.9" width="0.8" height="10.2" fill="#089981"/><rect x="628.46" y="311.4" width="1.4" height="3.7" fill="#089981"/><rect x="630.70" y="306.1" width="0.8" height="23.0" fill="#f23645"/><rect x="630.40" y="311.4" width="1.4" height="16.9" fill="#f23645"/><rect x="632.64" y="322.3" width="0.8" height="6.6" fill="#089981"/><rect x="632.34" y="322.5" width="1.4" height="5.8" fill="#089981"/><rect x="634.58" y="317.9" width="0.8" height="5.2" fill="#089981"/><rect x="634.28" y="320.2" width="1.4" height="2.3" fill="#089981"/><rect x="636.52" y="319.9" width="0.8" height="25.4" fill="#f23645"/><rect x="636.22" y="320.2" width="1.4" height="22.4" fill="#f23645"/><rect x="638.46" y="339.2" width="0.8" height="22.9" fill="#f23645"/><rect x="638.16" y="342.6" width="1.4" height="17.4" fill="#f23645"/><rect x="640.40" y="349.6" width="0.8" height="11.3" fill="#089981"/><rect x="640.10" y="349.7" width="1.4" height="10.3" fill="#089981"/><rect x="642.34" y="341.9" width="0.8" height="13.9" fill="#089981"/><rect x="642.04" y="342.6" width="1.4" height="7.1" fill="#089981"/><rect x="644.28" y="330.1" width="0.8" height="15.9" fill="#089981"/><rect x="643.98" y="330.2" width="1.4" height="12.4" fill="#089981"/><rect x="646.22" y="321.9" width="0.8" height="8.9" fill="#089981"/><rect x="645.92" y="323.7" width="1.4" height="6.5" fill="#089981"/><rect x="648.16" y="314.7" width="0.8" height="24.5" fill="#f23645"/><rect x="647.86" y="323.7" width="1.4" height="14.8" fill="#f23645"/><rect x="650.10" y="302.6" width="0.8" height="45.0" fill="#089981"/><rect x="649.80" y="305.9" width="1.4" height="32.6" fill="#089981"/><rect x="652.04" y="292.6" width="0.8" height="15.1" fill="#089981"/><rect x="651.74" y="293.0" width="1.4" height="12.9" fill="#089981"/><rect x="653.98" y="291.2" width="0.8" height="20.1" fill="#f23645"/><rect x="653.68" y="293.0" width="1.4" height="10.9" fill="#f23645"/><rect x="655.92" y="302.6" width="0.8" height="3.1" fill="#f23645"/><rect x="655.62" y="303.9" width="1.4" height="1.8" fill="#f23645"/><rect x="657.86" y="284.7" width="0.8" height="22.6" fill="#089981"/><rect x="657.56" y="286.8" width="1.4" height="18.9" fill="#089981"/><rect x="659.80" y="280.6" width="0.8" height="13.6" fill="#089981"/><rect x="659.50" y="282.3" width="1.4" height="4.5" fill="#089981"/><rect x="661.74" y="271.1" width="0.8" height="13.7" fill="#089981"/><rect x="661.44" y="271.8" width="1.4" height="10.6" fill="#089981"/><rect x="663.68" y="263.1" width="0.8" height="10.7" fill="#089981"/><rect x="663.38" y="263.2" width="1.4" height="8.6" fill="#089981"/><rect x="665.62" y="259.1" width="0.8" height="16.0" fill="#f23645"/><rect x="665.32" y="263.2" width="1.4" height="5.3" fill="#f23645"/><rect x="667.56" y="255.7" width="0.8" height="15.6" fill="#089981"/><rect x="667.26" y="262.0" width="1.4" height="6.4" fill="#089981"/><rect x="669.50" y="259.0" width="0.8" height="24.7" fill="#f23645"/><rect x="669.20" y="262.0" width="1.4" height="19.0" fill="#f23645"/><rect x="671.44" y="264.0" width="0.8" height="20.0" fill="#089981"/><rect x="671.14" y="266.3" width="1.4" height="14.7" fill="#089981"/><rect x="673.38" y="256.6" width="0.8" height="13.0" fill="#089981"/><rect x="673.08" y="262.6" width="1.4" height="3.7" fill="#089981"/><rect x="675.32" y="256.3" width="0.8" height="33.6" fill="#f23645"/><rect x="675.02" y="262.6" width="1.4" height="25.0" fill="#f23645"/><rect x="677.26" y="263.6" width="0.8" height="26.4" fill="#089981"/><rect x="676.96" y="264.4" width="1.4" height="23.2" fill="#089981"/><rect x="679.20" y="264.1" width="0.8" height="16.0" fill="#f23645"/><rect x="678.90" y="264.4" width="1.4" height="12.1" fill="#f23645"/><rect x="681.14" y="274.5" width="0.8" height="2.8" fill="#089981"/><rect x="680.84" y="276.4" width="1.4" height="0.8" fill="#089981"/><rect x="683.08" y="262.4" width="0.8" height="15.1" fill="#089981"/><rect x="682.78" y="263.4" width="1.4" height="13.0" fill="#089981"/><rect x="685.02" y="247.7" width="0.8" height="23.0" fill="#089981"/><rect x="684.72" y="253.8" width="1.4" height="9.6" fill="#089981"/><rect x="686.96" y="240.8" width="0.8" height="13.1" fill="#089981"/><rect x="686.66" y="243.3" width="1.4" height="10.5" fill="#089981"/><rect x="688.90" y="241.5" width="0.8" height="5.6" fill="#f23645"/><rect x="688.60" y="243.3" width="1.4" height="3.4" fill="#f23645"/><rect x="690.84" y="233.7" width="0.8" height="20.0" fill="#089981"/><rect x="690.54" y="236.0" width="1.4" height="10.6" fill="#089981"/><rect x="692.78" y="234.3" width="0.8" height="3.5" fill="#089981"/><rect x="692.48" y="235.9" width="1.4" height="0.8" fill="#089981"/><rect x="694.72" y="233.2" width="0.8" height="5.8" fill="#089981"/><rect x="694.42" y="233.8" width="1.4" height="2.2" fill="#089981"/><rect x="696.66" y="230.5" width="0.8" height="5.2" fill="#089981"/><rect x="696.36" y="232.9" width="1.4" height="0.8" fill="#089981"/><rect x="698.60" y="228.6" width="0.8" height="6.4" fill="#f23645"/><rect x="698.30" y="232.9" width="1.4" height="0.8" fill="#f23645"/><rect x="700.54" y="225.2" width="0.8" height="10.6" fill="#089981"/><rect x="700.24" y="227.9" width="1.4" height="5.2" fill="#089981"/><rect x="702.48" y="221.9" width="0.8" height="21.9" fill="#f23645"/><rect x="702.18" y="227.9" width="1.4" height="15.9" fill="#f23645"/><rect x="704.42" y="237.4" width="0.8" height="9.2" fill="#089981"/><rect x="704.12" y="241.4" width="1.4" height="2.4" fill="#089981"/><rect x="706.36" y="237.0" width="0.8" height="14.4" fill="#f23645"/><rect x="706.06" y="241.4" width="1.4" height="7.8" fill="#f23645"/><rect x="708.30" y="240.4" width="0.8" height="9.2" fill="#089981"/><rect x="708.00" y="245.5" width="1.4" height="3.7" fill="#089981"/><rect x="710.24" y="232.9" width="0.8" height="14.9" fill="#089981"/><rect x="709.94" y="234.2" width="1.4" height="11.3" fill="#089981"/><rect x="712.18" y="224.5" width="0.8" height="11.9" fill="#089981"/><rect x="711.88" y="229.8" width="1.4" height="4.4" fill="#089981"/><rect x="714.12" y="222.3" width="0.8" height="15.3" fill="#f23645"/><rect x="713.82" y="229.8" width="1.4" height="3.7" fill="#f23645"/><rect x="716.06" y="231.2" width="0.8" height="3.7" fill="#089981"/><rect x="715.76" y="233.3" width="1.4" height="0.8" fill="#089981"/><rect x="718.00" y="231.2" width="0.8" height="13.0" fill="#f23645"/><rect x="717.70" y="233.3" width="1.4" height="6.7" fill="#f23645"/><rect x="719.94" y="223.7" width="0.8" height="17.0" fill="#089981"/><rect x="719.64" y="225.3" width="1.4" height="14.7" fill="#089981"/><rect x="721.88" y="218.4" width="0.8" height="11.5" fill="#089981"/><rect x="721.58" y="222.5" width="1.4" height="2.8" fill="#089981"/><rect x="723.82" y="212.5" width="0.8" height="11.9" fill="#089981"/><rect x="723.52" y="213.2" width="1.4" height="9.3" fill="#089981"/><rect x="725.76" y="203.0" width="0.8" height="16.4" fill="#089981"/><rect x="725.46" y="205.4" width="1.4" height="7.9" fill="#089981"/><rect x="727.70" y="204.4" width="0.8" height="6.8" fill="#f23645"/><rect x="727.40" y="205.4" width="1.4" height="1.2" fill="#f23645"/><rect x="729.64" y="206.4" width="0.8" height="10.5" fill="#f23645"/><rect x="729.34" y="206.6" width="1.4" height="10.1" fill="#f23645"/><rect x="731.58" y="202.7" width="0.8" height="17.2" fill="#089981"/><rect x="731.28" y="202.8" width="1.4" height="13.9" fill="#089981"/><rect x="733.52" y="201.5" width="0.8" height="11.1" fill="#f23645"/><rect x="733.22" y="202.8" width="1.4" height="9.7" fill="#f23645"/><rect x="735.46" y="210.2" width="0.8" height="9.6" fill="#f23645"/><rect x="735.16" y="212.5" width="1.4" height="3.4" fill="#f23645"/><rect x="737.40" y="206.3" width="0.8" height="10.1" fill="#089981"/><rect x="737.10" y="211.1" width="1.4" height="4.8" fill="#089981"/><rect x="739.34" y="207.4" width="0.8" height="4.7" fill="#089981"/><rect x="739.04" y="210.0" width="1.4" height="1.1" fill="#089981"/><rect x="741.28" y="207.0" width="0.8" height="8.7" fill="#f23645"/><rect x="740.98" y="210.0" width="1.4" height="5.4" fill="#f23645"/><rect x="743.22" y="213.7" width="0.8" height="6.7" fill="#f23645"/><rect x="742.92" y="215.4" width="1.4" height="4.6" fill="#f23645"/><rect x="745.16" y="211.3" width="0.8" height="8.9" fill="#089981"/><rect x="744.86" y="211.5" width="1.4" height="8.5" fill="#089981"/><rect x="747.10" y="211.3" width="0.8" height="8.2" fill="#f23645"/><rect x="746.80" y="211.5" width="1.4" height="2.5" fill="#f23645"/><rect x="749.04" y="208.4" width="0.8" height="7.1" fill="#089981"/><rect x="748.74" y="210.3" width="1.4" height="3.8" fill="#089981"/><rect x="750.98" y="207.3" width="0.8" height="7.6" fill="#089981"/><rect x="750.68" y="207.6" width="1.4" height="2.7" fill="#089981"/><rect x="752.92" y="203.9" width="0.8" height="6.5" fill="#089981"/><rect x="752.62" y="206.1" width="1.4" height="1.5" fill="#089981"/><rect x="754.86" y="197.0" width="0.8" height="9.8" fill="#089981"/><rect x="754.56" y="200.6" width="1.4" height="5.5" fill="#089981"/><rect x="756.80" y="197.2" width="0.8" height="11.9" fill="#f23645"/><rect x="756.50" y="200.6" width="1.4" height="5.8" fill="#f23645"/><rect x="758.74" y="205.1" width="0.8" height="6.3" fill="#f23645"/><rect x="758.44" y="206.4" width="1.4" height="4.4" fill="#f23645"/><rect x="760.68" y="207.7" width="0.8" height="6.4" fill="#089981"/><rect x="760.38" y="209.9" width="1.4" height="0.8" fill="#089981"/><rect x="762.62" y="209.7" width="0.8" height="4.1" fill="#f23645"/><rect x="762.32" y="209.9" width="1.4" height="3.5" fill="#f23645"/><rect x="764.56" y="211.0" width="0.8" height="7.2" fill="#f23645"/><rect x="764.26" y="213.5" width="1.4" height="4.2" fill="#f23645"/><rect x="766.50" y="212.1" width="0.8" height="5.6" fill="#089981"/><rect x="766.20" y="212.6" width="1.4" height="5.0" fill="#089981"/><rect x="768.44" y="205.9" width="0.8" height="7.7" fill="#089981"/><rect x="768.14" y="208.2" width="1.4" height="4.4" fill="#089981"/><rect x="770.38" y="201.6" width="0.8" height="7.6" fill="#089981"/><rect x="770.08" y="203.8" width="1.4" height="4.4" fill="#089981"/><rect x="772.32" y="201.3" width="0.8" height="5.7" fill="#f23645"/><rect x="772.02" y="203.8" width="1.4" height="1.6" fill="#f23645"/><rect x="774.26" y="200.0" width="0.8" height="6.9" fill="#089981"/><rect x="773.96" y="203.3" width="1.4" height="2.1" fill="#089981"/><rect x="776.20" y="200.8" width="0.8" height="21.9" fill="#f23645"/><rect x="775.90" y="203.3" width="1.4" height="18.4" fill="#f23645"/><rect x="778.14" y="216.7" width="0.8" height="5.3" fill="#089981"/><rect x="777.84" y="217.2" width="1.4" height="4.5" fill="#089981"/><rect x="780.08" y="213.6" width="0.8" height="10.8" fill="#f23645"/><rect x="779.78" y="217.2" width="1.4" height="4.3" fill="#f23645"/><rect x="782.02" y="208.1" width="0.8" height="14.8" fill="#089981"/><rect x="781.72" y="209.4" width="1.4" height="12.1" fill="#089981"/><rect x="783.96" y="208.8" width="0.8" height="10.2" fill="#f23645"/><rect x="783.66" y="209.4" width="1.4" height="9.5" fill="#f23645"/><rect x="785.90" y="214.5" width="0.8" height="6.6" fill="#089981"/><rect x="785.60" y="215.5" width="1.4" height="3.4" fill="#089981"/><rect x="787.84" y="215.3" width="0.8" height="9.7" fill="#f23645"/><rect x="787.54" y="215.5" width="1.4" height="8.8" fill="#f23645"/><rect x="789.78" y="223.0" width="0.8" height="8.9" fill="#f23645"/><rect x="789.48" y="224.3" width="1.4" height="6.1" fill="#f23645"/><rect x="791.72" y="227.4" width="0.8" height="4.9" fill="#089981"/><rect x="791.42" y="228.0" width="1.4" height="2.5" fill="#089981"/><rect x="793.66" y="213.1" width="0.8" height="15.3" fill="#089981"/><rect x="793.36" y="215.4" width="1.4" height="12.6" fill="#089981"/><rect x="795.60" y="210.5" width="0.8" height="6.8" fill="#089981"/><rect x="795.30" y="211.9" width="1.4" height="3.5" fill="#089981"/><rect x="797.54" y="210.5" width="0.8" height="16.6" fill="#f23645"/><rect x="797.24" y="211.9" width="1.4" height="14.8" fill="#f23645"/><rect x="799.48" y="223.2" width="0.8" height="4.1" fill="#089981"/><rect x="799.18" y="223.9" width="1.4" height="2.8" fill="#089981"/><rect x="801.42" y="215.4" width="0.8" height="8.5" fill="#089981"/><rect x="801.12" y="216.9" width="1.4" height="7.0" fill="#089981"/><rect x="803.36" y="210.8" width="0.8" height="9.3" fill="#f23645"/><rect x="803.06" y="216.9" width="1.4" height="0.8" fill="#f23645"/><rect x="805.30" y="209.2" width="0.8" height="8.6" fill="#089981"/><rect x="805.00" y="213.1" width="1.4" height="4.4" fill="#089981"/><rect x="807.24" y="207.1" width="0.8" height="8.5" fill="#089981"/><rect x="806.94" y="209.6" width="1.4" height="3.5" fill="#089981"/><rect x="809.18" y="209.2" width="0.8" height="6.3" fill="#f23645"/><rect x="808.88" y="209.6" width="1.4" height="0.8" fill="#f23645"/><rect x="811.12" y="196.9" width="0.8" height="13.9" fill="#089981"/><rect x="810.82" y="198.5" width="1.4" height="11.4" fill="#089981"/><rect x="813.06" y="187.5" width="0.8" height="13.3" fill="#089981"/><rect x="812.76" y="190.2" width="1.4" height="8.4" fill="#089981"/><rect x="815.00" y="188.0" width="0.8" height="16.0" fill="#f23645"/><rect x="814.70" y="190.2" width="1.4" height="12.4" fill="#f23645"/><rect x="816.94" y="179.5" width="0.8" height="24.8" fill="#089981"/><rect x="816.64" y="181.2" width="1.4" height="21.4" fill="#089981"/><rect x="818.88" y="179.0" width="0.8" height="3.1" fill="#089981"/><rect x="818.58" y="180.5" width="1.4" height="0.8" fill="#089981"/><rect x="820.82" y="180.0" width="0.8" height="0.9" fill="#f23645"/><rect x="820.52" y="180.5" width="1.4" height="0.8" fill="#f23645"/><rect x="822.76" y="178.5" width="0.8" height="4.8" fill="#f23645"/><rect x="822.46" y="180.6" width="1.4" height="0.8" fill="#f23645"/><rect x="824.70" y="174.0" width="0.8" height="10.7" fill="#089981"/><rect x="824.40" y="178.2" width="1.4" height="2.4" fill="#089981"/><rect x="826.64" y="175.0" width="0.8" height="21.0" fill="#f23645"/><rect x="826.34" y="178.2" width="1.4" height="13.0" fill="#f23645"/><rect x="828.58" y="191.2" width="0.8" height="8.3" fill="#f23645"/><rect x="828.28" y="191.3" width="1.4" height="3.9" fill="#f23645"/><rect x="830.52" y="192.9" width="0.8" height="8.7" fill="#f23645"/><rect x="830.22" y="195.2" width="1.4" height="3.1" fill="#f23645"/><rect x="832.46" y="195.4" width="0.8" height="30.6" fill="#f23645"/><rect x="832.16" y="198.3" width="1.4" height="23.0" fill="#f23645"/><rect x="834.40" y="218.0" width="0.8" height="7.3" fill="#f23645"/><rect x="834.10" y="221.3" width="1.4" height="3.2" fill="#f23645"/><rect x="836.34" y="212.9" width="0.8" height="14.7" fill="#089981"/><rect x="836.04" y="215.8" width="1.4" height="8.7" fill="#089981"/><rect x="838.28" y="213.9" width="0.8" height="23.2" fill="#f23645"/><rect x="837.98" y="215.8" width="1.4" height="20.0" fill="#f23645"/><rect x="840.22" y="233.5" width="0.8" height="16.2" fill="#f23645"/><rect x="839.92" y="235.8" width="1.4" height="6.1" fill="#f23645"/><rect x="842.16" y="231.9" width="0.8" height="10.1" fill="#089981"/><rect x="841.86" y="233.9" width="1.4" height="8.0" fill="#089981"/><rect x="844.10" y="231.5" width="0.8" height="4.0" fill="#f23645"/><rect x="843.80" y="233.9" width="1.4" height="1.2" fill="#f23645"/><rect x="846.04" y="219.1" width="0.8" height="22.7" fill="#089981"/><rect x="845.74" y="221.5" width="1.4" height="13.6" fill="#089981"/><rect x="847.98" y="210.3" width="0.8" height="17.6" fill="#089981"/><rect x="847.68" y="219.0" width="1.4" height="2.5" fill="#089981"/><rect x="849.92" y="216.5" width="0.8" height="17.9" fill="#f23645"/><rect x="849.62" y="219.0" width="1.4" height="8.0" fill="#f23645"/><rect x="851.86" y="214.9" width="0.8" height="16.5" fill="#089981"/><rect x="851.56" y="215.4" width="1.4" height="11.6" fill="#089981"/><rect x="853.80" y="209.7" width="0.8" height="10.3" fill="#f23645"/><rect x="853.50" y="215.4" width="1.4" height="2.4" fill="#f23645"/><rect x="855.74" y="214.2" width="0.8" height="4.3" fill="#089981"/><rect x="855.44" y="215.1" width="1.4" height="2.7" fill="#089981"/><rect x="857.68" y="189.8" width="0.8" height="27.0" fill="#089981"/><rect x="857.38" y="194.2" width="1.4" height="20.9" fill="#089981"/><rect x="859.62" y="184.6" width="0.8" height="13.0" fill="#089981"/><rect x="859.32" y="187.7" width="1.4" height="6.4" fill="#089981"/><rect x="861.56" y="183.3" width="0.8" height="21.7" fill="#f23645"/><rect x="861.26" y="187.7" width="1.4" height="11.6" fill="#f23645"/><rect x="863.50" y="195.6" width="0.8" height="18.1" fill="#f23645"/><rect x="863.20" y="199.3" width="1.4" height="12.0" fill="#f23645"/><rect x="865.44" y="194.5" width="0.8" height="19.5" fill="#089981"/><rect x="865.14" y="197.6" width="1.4" height="13.7" fill="#089981"/><rect x="867.38" y="196.1" width="0.8" height="38.9" fill="#f23645"/><rect x="867.08" y="197.6" width="1.4" height="28.8" fill="#f23645"/><rect x="869.32" y="220.0" width="0.8" height="24.3" fill="#f23645"/><rect x="869.02" y="226.5" width="1.4" height="14.1" fill="#f23645"/><rect x="871.26" y="237.6" width="0.8" height="11.0" fill="#f23645"/><rect x="870.96" y="240.5" width="1.4" height="4.6" fill="#f23645"/><rect x="873.20" y="239.7" width="0.8" height="34.4" fill="#f23645"/><rect x="872.90" y="245.1" width="1.4" height="25.5" fill="#f23645"/><rect x="875.14" y="269.3" width="0.8" height="41.9" fill="#f23645"/><rect x="874.84" y="270.6" width="1.4" height="34.2" fill="#f23645"/><rect x="877.08" y="302.5" width="0.8" height="6.8" fill="#f23645"/><rect x="876.78" y="304.8" width="1.4" height="0.8" fill="#f23645"/><rect x="879.02" y="302.4" width="0.8" height="21.0" fill="#f23645"/><rect x="878.72" y="305.4" width="1.4" height="15.1" fill="#f23645"/><rect x="880.96" y="300.3" width="0.8" height="22.6" fill="#089981"/><rect x="880.66" y="308.6" width="1.4" height="11.9" fill="#089981"/><rect x="882.90" y="307.9" width="0.8" height="25.5" fill="#f23645"/><rect x="882.60" y="308.6" width="1.4" height="20.9" fill="#f23645"/><rect x="884.84" y="284.7" width="0.8" height="49.6" fill="#089981"/><rect x="884.54" y="285.4" width="1.4" height="44.1" fill="#089981"/><rect x="886.78" y="281.7" width="0.8" height="20.2" fill="#f23645"/><rect x="886.48" y="285.4" width="1.4" height="10.7" fill="#f23645"/><rect x="888.72" y="294.4" width="0.8" height="5.9" fill="#f23645"/><rect x="888.42" y="296.1" width="1.4" height="0.8" fill="#f23645"/><rect x="890.66" y="280.6" width="0.8" height="17.1" fill="#089981"/><rect x="890.36" y="286.6" width="1.4" height="9.5" fill="#089981"/><rect x="892.60" y="261.8" width="0.8" height="27.0" fill="#089981"/><rect x="892.30" y="262.2" width="1.4" height="24.4" fill="#089981"/><rect x="894.54" y="254.1" width="0.8" height="13.1" fill="#089981"/><rect x="894.24" y="262.0" width="1.4" height="0.8" fill="#089981"/><rect x="896.48" y="256.4" width="0.8" height="22.5" fill="#f23645"/><rect x="896.18" y="262.0" width="1.4" height="11.8" fill="#f23645"/><rect x="898.42" y="266.0" width="0.8" height="21.9" fill="#f23645"/><rect x="898.12" y="273.8" width="1.4" height="6.4" fill="#f23645"/><rect x="900.36" y="268.1" width="0.8" height="12.7" fill="#089981"/><rect x="900.06" y="269.1" width="1.4" height="11.1" fill="#089981"/><rect x="902.30" y="265.2" width="0.8" height="13.7" fill="#f23645"/><rect x="902.00" y="269.1" width="1.4" height="9.5" fill="#f23645"/><rect x="904.24" y="256.3" width="0.8" height="24.1" fill="#089981"/><rect x="903.94" y="259.1" width="1.4" height="19.6" fill="#089981"/><rect x="906.18" y="258.1" width="0.8" height="15.9" fill="#f23645"/><rect x="905.88" y="259.1" width="1.4" height="9.0" fill="#f23645"/><rect x="908.12" y="264.5" width="0.8" height="4.8" fill="#089981"/><rect x="907.82" y="266.1" width="1.4" height="1.9" fill="#089981"/><rect x="910.06" y="262.9" width="0.8" height="4.8" fill="#089981"/><rect x="909.76" y="264.9" width="1.4" height="1.2" fill="#089981"/><rect x="912.00" y="251.1" width="0.8" height="15.7" fill="#089981"/><rect x="911.70" y="255.7" width="1.4" height="9.2" fill="#089981"/><rect x="913.94" y="229.1" width="0.8" height="27.5" fill="#089981"/><rect x="913.64" y="233.7" width="1.4" height="22.0" fill="#089981"/><rect x="915.88" y="224.7" width="0.8" height="44.8" fill="#f23645"/><rect x="915.58" y="233.7" width="1.4" height="32.8" fill="#f23645"/><rect x="917.82" y="263.9" width="0.8" height="46.7" fill="#f23645"/><rect x="917.52" y="266.5" width="1.4" height="38.3" fill="#f23645"/><rect x="919.76" y="304.3" width="0.8" height="22.9" fill="#f23645"/><rect x="919.46" y="304.9" width="1.4" height="20.8" fill="#f23645"/><rect x="921.70" y="324.1" width="0.8" height="19.4" fill="#f23645"/><rect x="921.40" y="325.6" width="1.4" height="15.3" fill="#f23645"/><rect x="923.64" y="339.0" width="0.8" height="18.7" fill="#f23645"/><rect x="923.34" y="340.9" width="1.4" height="15.1" fill="#f23645"/><rect x="925.58" y="354.3" width="0.8" height="12.4" fill="#f23645"/><rect x="925.28" y="356.0" width="1.4" height="9.9" fill="#f23645"/><rect x="927.52" y="365.8" width="0.8" height="16.5" fill="#f23645"/><rect x="927.22" y="365.9" width="1.4" height="16.0" fill="#f23645"/><rect x="929.46" y="380.9" width="0.8" height="10.1" fill="#f23645"/><rect x="929.16" y="381.9" width="1.4" height="6.1" fill="#f23645"/><rect x="931.40" y="386.4" width="0.8" height="4.0" fill="#f23645"/><rect x="931.10" y="388.0" width="1.4" height="1.0" fill="#f23645"/><rect x="933.34" y="384.3" width="0.8" height="25.9" fill="#f23645"/><rect x="933.04" y="389.1" width="1.4" height="18.9" fill="#f23645"/><rect x="935.28" y="406.2" width="0.8" height="34.8" fill="#f23645"/><rect x="934.98" y="407.9" width="1.4" height="29.1" fill="#f23645"/><rect x="937.22" y="418.7" width="0.8" height="22.2" fill="#089981"/><rect x="936.92" y="421.9" width="1.4" height="15.2" fill="#089981"/><rect x="939.16" y="416.1" width="0.8" height="12.3" fill="#089981"/><rect x="938.86" y="416.4" width="1.4" height="5.5" fill="#089981"/><rect x="941.10" y="409.2" width="0.8" height="8.8" fill="#089981"/><rect x="940.80" y="410.3" width="1.4" height="6.1" fill="#089981"/><rect x="943.04" y="408.2" width="0.8" height="2.6" fill="#089981"/><rect x="942.74" y="409.1" width="1.4" height="1.3" fill="#089981"/><rect x="944.98" y="408.2" width="0.8" height="24.3" fill="#f23645"/><rect x="944.68" y="409.1" width="1.4" height="22.2" fill="#f23645"/><rect x="946.92" y="428.6" width="0.8" height="13.6" fill="#f23645"/><rect x="946.62" y="431.2" width="1.4" height="8.3" fill="#f23645"/><rect x="948.86" y="436.0" width="0.8" height="8.7" fill="#f23645"/><rect x="948.56" y="439.6" width="1.4" height="2.3" fill="#f23645"/><rect x="950.80" y="416.6" width="0.8" height="26.4" fill="#089981"/><rect x="950.50" y="421.4" width="1.4" height="20.5" fill="#089981"/><rect x="952.74" y="410.1" width="0.8" height="15.0" fill="#089981"/><rect x="952.44" y="411.4" width="1.4" height="10.0" fill="#089981"/><rect x="954.68" y="408.0" width="0.8" height="8.3" fill="#089981"/><rect x="954.38" y="408.8" width="1.4" height="2.6" fill="#089981"/><rect x="956.62" y="406.9" width="0.8" height="13.3" fill="#f23645"/><rect x="956.32" y="408.8" width="1.4" height="10.7" fill="#f23645"/><rect x="958.56" y="411.4" width="0.8" height="9.0" fill="#089981"/><rect x="958.26" y="412.8" width="1.4" height="6.8" fill="#089981"/><rect x="960.50" y="407.0" width="0.8" height="6.1" fill="#089981"/><rect x="960.20" y="408.4" width="1.4" height="4.4" fill="#089981"/><rect x="962.44" y="397.3" width="0.8" height="15.9" fill="#089981"/><rect x="962.14" y="397.5" width="1.4" height="10.9" fill="#089981"/><rect x="964.38" y="392.1" width="0.8" height="5.6" fill="#089981"/><rect x="964.08" y="396.9" width="1.4" height="0.8" fill="#089981"/><rect x="966.32" y="385.2" width="0.8" height="14.1" fill="#089981"/><rect x="966.02" y="385.9" width="1.4" height="11.0" fill="#089981"/><rect x="968.26" y="374.1" width="0.8" height="13.6" fill="#089981"/><rect x="967.96" y="375.9" width="1.4" height="9.9" fill="#089981"/><rect x="970.20" y="375.7" width="0.8" height="6.0" fill="#f23645"/><rect x="969.90" y="375.9" width="1.4" height="3.4" fill="#f23645"/><rect x="972.14" y="360.6" width="0.8" height="19.4" fill="#089981"/><rect x="971.84" y="363.9" width="1.4" height="15.5" fill="#089981"/><rect x="974.08" y="353.1" width="0.8" height="14.1" fill="#089981"/><rect x="973.78" y="358.3" width="1.4" height="5.6" fill="#089981"/><rect x="976.02" y="355.5" width="0.8" height="17.7" fill="#f23645"/><rect x="975.72" y="358.3" width="1.4" height="14.7" fill="#f23645"/><rect x="977.96" y="355.6" width="0.8" height="18.0" fill="#089981"/><rect x="977.66" y="356.0" width="1.4" height="16.9" fill="#089981"/><rect x="979.90" y="339.0" width="0.8" height="21.1" fill="#089981"/><rect x="979.60" y="341.5" width="1.4" height="14.5" fill="#089981"/><rect x="981.84" y="339.5" width="0.8" height="15.1" fill="#f23645"/><rect x="981.54" y="341.5" width="1.4" height="9.0" fill="#f23645"/></g>
<path d="M0,57 C1.7,57.3 7.5,57.9 10,59 C12.5,60.1 13.3,62.3 15,63.6 C16.7,64.9 17.5,64.2 20,66.6 C22.5,69.0 26.7,74.6 30,78 C33.3,81.4 36.7,84.7 40,87 C43.3,89.3 47.0,89.7 50,92 C53.0,94.3 54.7,97.8 58,101 C61.3,104.2 66.3,107.7 70,111 C73.7,114.3 76.7,118.5 80,121 C83.3,123.5 86.7,124.3 90,126 C93.3,127.7 96.7,129.3 100,131 C103.3,132.7 106.7,134.7 110,136 C113.3,137.3 116.7,138.0 120,139 C123.3,140.0 126.7,140.0 130,142 C133.3,144.0 136.7,148.0 140,151 C143.3,154.0 146.7,157.2 150,160 C153.3,162.8 156.7,165.5 160,168 C163.3,170.5 166.7,172.8 170,175 C173.3,177.2 176.7,179.2 180,181 C183.3,182.8 186.7,184.5 190,186 C193.3,187.5 195.8,188.5 200,190 C204.2,191.5 210.0,193.8 215,195 C220.0,196.2 225.8,196.2 230,197 C234.2,197.8 236.7,198.5 240,200 C243.3,201.5 246.7,203.5 250,206 C253.3,208.5 256.7,211.5 260,215 C263.3,218.5 267.5,223.7 270,227 C272.5,230.3 273.3,232.2 275,235 C276.7,237.8 278.2,241.0 280,244 C281.8,247.0 284.3,250.2 286,253 C287.7,255.8 287.7,257.2 290,261 C292.3,264.8 296.7,271.3 300,276 C303.3,280.7 306.7,285.3 310,289 C313.3,292.7 316.7,294.8 320,298 C323.3,301.2 326.7,303.7 330,308 C333.3,312.3 336.3,318.7 340,324 C343.7,329.3 348.7,334.8 352,340 C355.3,345.2 357.0,350.0 360,355 C363.0,360.0 365.8,364.0 370,370 C374.2,376.0 381.3,385.3 385,391 C388.7,396.7 389.5,399.5 392,404 C394.5,408.5 397.0,413.2 400,418 C403.0,422.8 406.7,429.2 410,433 C413.3,436.8 416.7,439.2 420,441 C423.3,442.8 426.7,443.3 430,444 C433.3,444.7 436.7,444.5 440,445 C443.3,445.5 446.7,446.3 450,447 C453.3,447.7 456.7,448.3 460,449 C463.3,449.7 467.0,450.5 470,451 C473.0,451.5 475.5,451.8 478,452 C480.5,452.2 482.2,452.3 485,452 C487.8,451.7 491.7,451.7 495,450 C498.3,448.3 502.5,444.2 505,442 C507.5,439.8 508.2,438.7 510,437 C511.8,435.3 513.7,433.8 516,432 C518.3,430.2 521.3,428.1 523.6,426 C525.9,423.9 527.8,421.7 530,419.5 C532.2,417.3 533.6,416.0 537,412.6 C540.4,409.2 546.4,403.7 550.4,399.2 C554.4,394.7 557.9,389.5 561.2,385.8 C564.5,382.1 566.9,380.5 570,377 C573.1,373.5 576.7,368.5 580,365 C583.3,361.5 586.7,358.7 590,356 C593.3,353.3 596.7,351.2 600,349 C603.3,346.8 606.7,345.5 610,343 C613.3,340.5 615.5,337.0 620,334 C624.5,331.0 631.3,327.5 637,325 C642.7,322.5 648.5,321.2 654,319 C659.5,316.8 663.2,314.7 670,312 C676.8,309.3 688.3,305.0 695,303 C701.7,301.0 704.7,301.8 710,300 C715.3,298.2 721.3,295.0 727,292 C732.7,289.0 738.5,285.5 744,282 C749.5,278.5 755.0,274.8 760,271 C765.0,267.2 770.3,261.7 774,259 C777.7,256.3 779.7,256.8 782,255 C784.3,253.2 785.3,250.3 788,248 C790.7,245.7 795.2,243.2 798,241 C800.8,238.8 801.0,237.5 805,235 C809.0,232.5 816.8,228.7 822,226 C827.2,223.3 831.3,220.8 836,219 C840.7,217.2 845.3,215.8 850,215 C854.7,214.2 859.0,213.3 864,214 C869.0,214.7 876.5,217.8 880,219 C883.5,220.2 881.3,219.7 885,221 C888.7,222.3 897.0,225.3 902,227 C907.0,228.7 910.8,227.8 915,231 C919.2,234.2 922.2,240.0 927,246 C931.8,252.0 938.3,260.0 944,267 C949.7,274.0 954.5,280.3 961,288 C967.5,295.7 979.3,308.8 983,313" fill="none" stroke="#e8444a" stroke-width="1.4"/>
<path d="M0,93 C0.8,92.8 3.3,91.9 5,91.5 C6.7,91.1 8.3,90.7 10,90.5 C11.7,90.3 13.3,89.9 15,90.5 C16.7,91.1 18.3,92.2 20,94 C21.7,95.8 23.3,98.3 25,101 C26.7,103.7 28.2,106.8 30,110 C31.8,113.2 34.0,115.8 36,120 C38.0,124.2 40.1,129.1 42,135 C43.9,140.9 45.4,150.9 47.4,155.7 C49.4,160.5 51.9,161.8 54,164 C56.1,166.2 57.2,167.2 60.3,168.6 C63.3,170.0 68.6,170.7 72.3,172.6 C76.0,174.5 79.5,179.7 82.4,179.9 C85.4,180.1 87.7,175.9 90,174 C92.3,172.1 93.4,171.5 96.5,168.6 C99.6,165.7 105.2,160.2 108.5,156.6 C111.8,153.0 113.7,150.0 116,147 C118.3,144.0 119.8,138.2 122.6,138.5 C125.4,138.8 129.7,145.4 132.6,148.5 C135.5,151.6 137.4,153.4 140,157 C142.6,160.6 145.5,165.3 148,170 C150.5,174.7 153.0,180.4 155,185 C157.0,189.6 158.3,194.0 160,197.6 C161.7,201.2 163.3,203.7 165,206.4 C166.7,209.1 168.3,211.4 170,213.9 C171.7,216.4 173.3,219.1 175,221.4 C176.7,223.7 178.3,226.3 180,227.7 C181.7,229.1 182.8,228.9 185,229.6 C187.2,230.3 190.7,231.2 193,232 C195.3,232.8 197.0,234.1 199,234.6 C201.0,235.1 203.2,234.7 205,234.8 C206.8,235.0 208.3,236.1 210,235.5 C211.7,234.9 212.5,233.9 215,231.5 C217.5,229.1 221.8,223.3 225,221 C228.2,218.7 231.2,218.1 234,217.5 C236.8,216.9 239.7,216.9 242,217.2 C244.3,217.5 246.0,217.9 248,219.2 C250.0,220.5 252.0,222.2 254,225 C256.0,227.8 258.0,231.8 260,236 C262.0,240.2 263.7,244.3 266,250 C268.3,255.7 271.7,263.8 274,270 C276.3,276.2 278.3,280.3 280,287 C281.7,293.7 282.4,301.2 284,310 C285.6,318.8 287.4,331.0 289.6,340 C291.8,349.0 294.8,356.0 297,364 C299.2,372.0 301.0,381.0 303,388 C305.0,395.0 307.2,401.0 309,406 C310.8,411.0 312.5,415.8 314,418 C315.5,420.2 316.3,419.5 318,419 C319.7,418.5 322.0,415.7 324,415 C326.0,414.3 327.0,413.2 330,415 C333.0,416.8 338.7,422.7 342,425.5 C345.3,428.3 347.0,428.2 350,432 C353.0,435.8 357.0,443.0 360,448 C363.0,453.0 365.3,457.3 368,462 C370.7,466.7 373.0,473.2 376,476 C379.0,478.8 383.0,477.4 386,478.5 C389.0,479.6 391.7,481.8 394,482.5 C396.3,483.2 397.7,484.8 400,483 C402.3,481.2 404.9,476.7 408,472 C411.1,467.3 415.2,459.9 418.7,454.7 C422.2,449.5 425.4,444.2 429,440.6 C432.6,437.0 436.5,433.9 440,433 C443.5,432.1 445.9,434.1 450,435.4 C454.1,436.7 459.9,438.3 464.4,440.6 C468.8,442.9 473.8,447.7 476.7,449.4 C479.6,451.1 480.4,451.9 482,451 C483.6,450.1 484.0,447.2 486,444 C488.0,440.8 491.7,436.0 494,432 C496.3,428.0 497.8,424.8 500,420 C502.2,415.2 505.3,408.5 507.4,403 C509.5,397.5 510.8,393.0 512.8,387 C514.8,381.0 517.0,373.1 519.5,367 C522.0,360.9 525.2,354.9 527.6,350.7 C530.0,346.5 531.6,345.1 534,342 C536.4,338.9 539.3,335.5 542,332 C544.7,328.5 547.2,325.0 550,321 C552.8,317.0 556.2,311.4 558.5,308 C560.8,304.6 561.8,303.4 564,300.5 C566.2,297.6 569.3,292.9 572,290.5 C574.7,288.1 577.5,286.0 580,286.4 C582.5,286.8 584.4,290.1 587,293 C589.6,295.9 592.7,300.3 595.5,304 C598.3,307.7 601.2,312.2 604,315 C606.8,317.8 609.3,319.0 612,320.6 C614.7,322.2 617.3,323.9 620,324.7 C622.7,325.5 625.2,324.7 628,325.4 C630.8,326.1 634.2,327.4 637,328.8 C639.8,330.2 642.3,332.7 645,333.6 C647.7,334.5 650.8,334.9 653,334.3 C655.2,333.7 656.4,332.2 658.4,330.2 C660.4,328.1 663.0,325.9 665.3,322 C667.6,318.1 670.0,311.6 672,307 C674.0,302.4 676.1,297.8 677.6,294.6 C679.1,291.4 678.9,291.4 681,288 C683.1,284.6 686.8,278.7 690,274 C693.2,269.3 696.3,264.5 700,260 C703.7,255.5 708.2,250.8 712,247 C715.8,243.2 719.2,240.3 723,237 C726.8,233.7 731.0,229.7 735,227 C739.0,224.3 743.0,223.3 747,221 C751.0,218.7 755.2,214.5 759,213 C762.8,211.5 766.2,212.3 770,212 C773.8,211.7 778.0,210.8 782,211 C786.0,211.2 790.5,212.3 794,213 C797.5,213.7 800.0,214.8 803,215 C806.0,215.2 808.8,215.3 812,214 C815.2,212.7 819.0,209.2 822,207 C825.0,204.8 827.3,202.0 830,201 C832.7,200.0 835.0,200.5 838,201 C841.0,201.5 844.8,202.8 848,204 C851.2,205.2 854.0,206.3 857,208 C860.0,209.7 863.3,211.0 866,214 C868.7,217.0 870.7,221.7 873,226 C875.3,230.3 878.0,236.7 880,240 C882.0,243.3 881.3,240.0 885,246 C888.7,252.0 898.2,269.3 902,276 C905.8,282.7 905.8,285.0 908,286 C910.2,287.0 912.5,282.0 915,282 C917.5,282.0 920.3,281.5 923,286 C925.7,290.5 928.2,300.8 931,309 C933.8,317.2 937.9,328.6 940,335 C942.1,341.4 942.4,342.7 943.6,347.4 C944.8,352.1 945.9,357.6 947,363 C948.1,368.4 948.8,373.9 950,380 C951.2,386.1 953.0,394.2 954.5,399.7 C956.0,405.2 957.0,409.7 958.8,412.8 C960.6,415.9 963.2,418.2 965.4,418.2 C967.6,418.2 968.8,417.0 971.9,412.8 C975.0,408.6 981.9,396.5 983.9,393.2" fill="none" stroke="#2545b5" stroke-width="1.1"/>
<circle cx="47" cy="156" r="2.6" fill="none" stroke="#2a4fb0" stroke-width="1"/><circle cx="123" cy="138" r="2.6" fill="none" stroke="#2a4fb0" stroke-width="1"/><circle cx="199" cy="235" r="2.6" fill="none" stroke="#2a4fb0" stroke-width="1"/><circle cx="274.5" cy="360.5" r="2.6" fill="none" stroke="#2a4fb0" stroke-width="1"/><circle cx="351" cy="455.5" r="2.6" fill="none" stroke="#2a4fb0" stroke-width="1"/><circle cx="425.6" cy="436.7" r="2.6" fill="none" stroke="#2a4fb0" stroke-width="1"/><circle cx="502.4" cy="376" r="2.6" fill="none" stroke="#2a4fb0" stroke-width="1"/><circle cx="577.1" cy="302.8" r="2.6" fill="none" stroke="#2a4fb0" stroke-width="1"/><circle cx="653" cy="318.5" r="2.6" fill="none" stroke="#2a4fb0" stroke-width="1"/><circle cx="728.6" cy="203.4" r="2.6" fill="none" stroke="#2a4fb0" stroke-width="1"/><circle cx="804.3" cy="214.4" r="2.6" fill="none" stroke="#2a4fb0" stroke-width="1"/><circle cx="879.7" cy="296.5" r="2.6" fill="none" stroke="#2a4fb0" stroke-width="1"/><circle cx="956.5" cy="421.5" r="2.6" fill="none" stroke="#2a4fb0" stroke-width="1"/>
<ellipse cx="644.8" cy="301.5" rx="36" ry="47.6" fill="none" stroke="#bfa238" stroke-width="2"/>
<polyline points="551,258 556,265 560,276 563,291 565.5,307 572.3,321.3 580.5,310.3 587,325 594.2,341.8 599,330 603.8,317.9 610.6,306.9 614,320 618.8,341.1 624.3,311 628,330 631,350 635,370 640,386 643,372 646,340 647,312 654.3,333 657,317 659,301 666,263 677,286.2 684.3,261.9 688.5,278.7 714.4,214.7" fill="none" stroke="#3dff2a" stroke-width="2.4" stroke-linejoin="round" stroke-linecap="round"/>
<line x1="618.5" y1="314.4" x2="681.7" y2="313.6" stroke="#3dff2a" stroke-width="2.4" stroke-linecap="round"/>
<rect x="637.9" y="303" width="24.4" height="38" rx="12" ry="13" fill="none" stroke="#e8158c" stroke-width="4.2"/>
<path d="M535,264 C536.7,267.0 542.0,276.0 545,282 C548.0,288.0 550.7,293.0 553,300 C555.3,307.0 557.3,317.0 559,324 C560.7,331.0 561.3,336.3 563,342 C564.7,347.7 566.7,353.3 569,358 C571.3,362.7 574.7,366.8 577,370 C579.3,373.2 580.8,377.0 583,377 C585.2,377.0 587.3,372.7 590,370 C592.7,367.3 596.2,364.5 599,361 C601.8,357.5 605.2,350.5 607,349 C608.8,347.5 609.2,349.3 610,352 C610.8,354.7 611.3,358.7 612,365 C612.7,371.3 613.2,382.2 614,390 C614.8,397.8 615.8,406.0 617,412 C618.2,418.0 619.7,422.5 621,426 C622.3,429.5 622.8,432.7 625,433 C627.2,433.3 630.8,431.2 634,428 C637.2,424.8 640.7,419.0 644,414 C647.3,409.0 651.0,404.7 654,398 C657.0,391.3 659.3,383.0 662,374 C664.7,365.0 667.5,351.8 670,344 C672.5,336.2 674.7,332.7 677,327 C679.3,321.3 682.0,315.5 684,310 C686.0,304.5 687.3,299.5 689,294 C690.7,288.5 692.0,281.3 694,277 C696.0,272.7 699.2,270.3 701,268 C702.8,265.7 703.7,262.0 705,263 C706.3,264.0 707.8,269.2 709,274 C710.2,278.8 710.8,286.8 712,292 C713.2,297.2 714.3,305.3 716,305 C717.7,304.7 719.7,295.5 722,290 C724.3,284.5 727.0,278.3 730,272 C733.0,265.7 736.5,258.7 740,252 C743.5,245.3 749.2,235.3 751,232" fill="none" stroke="#12a8ec" stroke-width="8.2" stroke-linejoin="round" stroke-linecap="round"/>
<polyline points="572.3,64.4 566.9,155.9" fill="none" stroke="#f9e71c" stroke-width="4.6" stroke-linecap="round" stroke-linejoin="round"/><polyline points="602.1,65.6 598.5,123.6" fill="none" stroke="#f9e71c" stroke-width="4.6" stroke-linecap="round" stroke-linejoin="round"/><polyline points="599.3,85.5 657.9,91.4" fill="none" stroke="#f9e71c" stroke-width="4.6" stroke-linecap="round" stroke-linejoin="round"/><polyline points="598.5,123.6 601,118.5 605,113.5 610,110 620,109 643.3,130.2 644.3,137.2 617.1,150.3 596,149.2 594.5,147.2" fill="none" stroke="#f9e71c" stroke-width="4.6" stroke-linecap="round" stroke-linejoin="round"/><polyline points="665.4,145.3 673.2,83.1 685.6,124.2 713,78.5 723.1,153.5 721.2,165.2" fill="none" stroke="#f9e71c" stroke-width="4.6" stroke-linecap="round" stroke-linejoin="round"/><polyline points="565.2,183.5 618,176.5 737.7,170.4" fill="none" stroke="#f9e71c" stroke-width="4.6" stroke-linecap="round" stroke-linejoin="round"/>
<rect x="0" y="0" width="1024" height="1" fill="#1a1a1a"/>
<rect x="0" y="0" width="1" height="579" fill="#1c1c1c"/>
<rect x="1022.8" y="0" width="1.2" height="597" fill="#1c1c1c"/>
<g class="t" font-size="8" fill="#c4c4c4" text-anchor="end"><text x="1016.6" y="34.2" textLength="28" lengthAdjust="spacingAndGlyphs">1.34400</text><text x="1016.6" y="56.0" textLength="28" lengthAdjust="spacingAndGlyphs">1.34300</text><text x="1016.6" y="77.9" textLength="28" lengthAdjust="spacingAndGlyphs">1.34200</text><text x="1016.6" y="99.7" textLength="28" lengthAdjust="spacingAndGlyphs">1.34100</text><text x="1016.6" y="121.6" textLength="28" lengthAdjust="spacingAndGlyphs">1.34000</text><text x="1016.6" y="143.4" textLength="28" lengthAdjust="spacingAndGlyphs">1.33900</text><text x="1016.6" y="165.3" textLength="28" lengthAdjust="spacingAndGlyphs">1.33800</text><text x="1016.6" y="187.1" textLength="28" lengthAdjust="spacingAndGlyphs">1.33700</text><text x="1016.6" y="209.0" textLength="28" lengthAdjust="spacingAndGlyphs">1.33600</text><text x="1016.6" y="230.8" textLength="28" lengthAdjust="spacingAndGlyphs">1.33500</text><text x="1016.6" y="252.7" textLength="28" lengthAdjust="spacingAndGlyphs">1.33400</text><text x="1016.6" y="274.5" textLength="28" lengthAdjust="spacingAndGlyphs">1.33300</text><text x="1016.6" y="296.4" textLength="28" lengthAdjust="spacingAndGlyphs">1.33200</text><text x="1016.6" y="318.2" textLength="28" lengthAdjust="spacingAndGlyphs">1.33100</text><text x="1016.6" y="340.1" textLength="28" lengthAdjust="spacingAndGlyphs">1.33000</text><text x="1016.6" y="361.9" textLength="28" lengthAdjust="spacingAndGlyphs">1.32900</text><text x="1016.6" y="383.8" textLength="28" lengthAdjust="spacingAndGlyphs">1.32800</text><text x="1016.6" y="405.6" textLength="28" lengthAdjust="spacingAndGlyphs">1.32700</text><text x="1016.6" y="427.5" textLength="28" lengthAdjust="spacingAndGlyphs">1.32600</text><text x="1016.6" y="449.3" textLength="28" lengthAdjust="spacingAndGlyphs">1.32500</text><text x="1016.6" y="471.2" textLength="28" lengthAdjust="spacingAndGlyphs">1.32400</text><text x="1016.6" y="493.0" textLength="28" lengthAdjust="spacingAndGlyphs">1.32300</text><text x="1016.6" y="514.9" textLength="28" lengthAdjust="spacingAndGlyphs">1.32200</text><text x="1016.6" y="536.7" textLength="28" lengthAdjust="spacingAndGlyphs">1.32100</text><text x="1016.6" y="558.6" textLength="28" lengthAdjust="spacingAndGlyphs">1.32000</text></g>
<!-- price label boxes -->
<g class="t" font-size="8" text-anchor="end">
<rect x="985" y="193.4" width="35" height="10.5" rx="1.2" fill="#4caf50"/><text x="1016.6" y="201.6" fill="#fff" textLength="28" lengthAdjust="spacingAndGlyphs">1.33636</text>
<rect x="985" y="207.5" width="35" height="10.5" rx="1.2" fill="#f5e02c"/><text x="1016.6" y="215.7" fill="#222" textLength="28" lengthAdjust="spacingAndGlyphs">1.33574</text>
<rect x="985" y="228" width="35" height="10.5" rx="1.2" fill="#2962ff"/><text x="1016.6" y="236.2" fill="#fff" textLength="28" lengthAdjust="spacingAndGlyphs">1.33479</text>
<rect x="985" y="244" width="35" height="10.5" rx="1.2" fill="#fff"/><text x="1016.6" y="252.2" fill="#222" textLength="28" lengthAdjust="spacingAndGlyphs">1.33406</text>
<rect x="1021.5" y="244" width="1.5" height="10" fill="#ddd"/>
<rect x="985.4" y="361.2" width="34.4" height="9.6" rx="1" fill="#000" stroke="#ddd" stroke-width="0.9"/><text x="1016.6" y="369.3" fill="#fff" textLength="28" lengthAdjust="spacingAndGlyphs">1.32874</text>
<rect x="1021.5" y="361" width="1.5" height="9.5" fill="#ddd"/>
<rect x="985" y="371.5" width="35" height="10.5" rx="1.2" fill="#ff9800"/><text x="1016.6" y="379.7" fill="#111" textLength="28" lengthAdjust="spacingAndGlyphs">1.32869</text>
</g>

<!-- time axis -->
<g class="t" font-size="8" fill="#c0c0c0" text-anchor="middle">
<text x="6" y="573.8">06:00</text><text x="53.8" y="573.8">12:00</text><text x="100.3" y="573.8">18:00</text>
<text x="146.8" y="573.8">13</text><text x="193.5" y="573.8">06:00</text><text x="240" y="573.8">12:00</text>
<text x="286.9" y="573.8">18:00</text><text x="333.1" y="573.8">14</text><text x="379.7" y="573.8" font-weight="bold" fill="#d0d0d0">16</text>
<text x="426.6" y="573.8">12:00</text><text x="472.8" y="573.8">18:00</text><text x="519" y="573.8">17</text>
<text x="566" y="573.8">06:00</text><text x="612.5" y="573.8">12:00</text><text x="658.8" y="573.8">18:00</text>
<text x="705.6" y="573.8">18</text><text x="751.9" y="573.8">06:00</text><text x="798.7" y="573.8">12:00</text>
<text x="845.8" y="573.8">18:00</text><text x="892" y="573.8">19</text><text x="938.6" y="573.8">06:00</text>
</g>

<!-- title box -->
<rect x="3.5" y="3.2" width="227.5" height="15" rx="3.5" fill="#0d0d0d" stroke="#1f3fae" stroke-width="1.2"/>
<defs><clipPath id="cus"><circle cx="14" cy="8.4" r="3.75"/></clipPath><clipPath id="cuk"><circle cx="9.8" cy="12.8" r="4.05"/></clipPath></defs>
<g clip-path="url(#cus)"><rect x="10" y="4.5" width="8" height="8" fill="#f4f4f4"/>
<rect x="10" y="4.6" width="8" height="1.1" fill="#e8414f"/><rect x="10" y="6.8" width="8" height="1.1" fill="#e8414f"/><rect x="10" y="9" width="8" height="1.1" fill="#e8414f"/><rect x="10" y="11.2" width="8" height="1.1" fill="#e8414f"/>
<rect x="10" y="4.5" width="4.6" height="4.6" fill="#4a8ee0"/></g>
<circle cx="9.8" cy="12.8" r="4.7" fill="#0d0d0d"/>
<g clip-path="url(#cuk)"><rect x="5" y="8" width="10" height="10" fill="#3056b0"/>
<path d="M5.5,8.5 L14.2,17.2 M14.2,8.5 L5.5,17.2" stroke="#f2f2f2" stroke-width="1.6"/>
<path d="M5.5,8.5 L14.2,17.2 M14.2,8.5 L5.5,17.2" stroke="#e04050" stroke-width="0.6"/>
<path d="M5,12.8 H15 M9.8,8 V18" stroke="#f2f2f2" stroke-width="2.4"/>
<path d="M5,12.8 H15 M9.8,8 V18" stroke="#e03848" stroke-width="1.3"/></g>
<g class="t" font-size="8.7" fill="#dcdcdc">
<text x="20" y="14.3" textLength="35.6" lengthAdjust="spacingAndGlyphs">GBPUSD</text>
<text x="59.4" y="14.6" font-size="10" text-anchor="middle">・</text>
<text x="63.6" y="15" font-size="10" textLength="70.5" lengthAdjust="spacingAndGlyphs">ポンド／米ドル</text>
<text x="138.3" y="14.6" font-size="10" text-anchor="middle">・</text>
<text x="142.2" y="14.3" textLength="9.6" lengthAdjust="spacingAndGlyphs">15</text>
<text x="156.1" y="14.6" font-size="10" text-anchor="middle">・</text>
<text x="160.3" y="14.3" textLength="32" lengthAdjust="spacingAndGlyphs">OANDA</text>
</g>
<path d="M200,7.5 H207 L204.6,11 L207,14.4 H200 Z" fill="#6f6f6f"/>
<circle cx="217" cy="10.7" r="1.05" fill="#cfcfcf"/><circle cx="221.3" cy="10.7" r="1.05" fill="#cfcfcf"/><circle cx="225.6" cy="10.7" r="1.05" fill="#cfcfcf"/>
<g class="t" font-size="8.4">
<text x="231.2" y="14.3" fill="#149a84" textLength="50" lengthAdjust="spacingAndGlyphs">0028 (+0.02%)</text>
<text x="284.8" y="14.6" fill="#e0e0e0" font-size="8.6" textLength="24.5" lengthAdjust="spacingAndGlyphs">出来高</text>
<text x="309.5" y="14.3" fill="#149a84" textLength="23" lengthAdjust="spacingAndGlyphs">3.31 K</text>
<text x="335.8" y="14.3" fill="#e8343f" textLength="68.5" lengthAdjust="spacingAndGlyphs">-0.00906 (-0.67%)</text>
</g>
<g class="t" font-size="8.2">
<text x="5.6" y="29.1" fill="#d4d4d4" textLength="15.4" lengthAdjust="spacingAndGlyphs">SMA</text>
<text x="22.5" y="29.1" fill="#9a9a9a" textLength="29.8" lengthAdjust="spacingAndGlyphs">20 close</text>
<text x="57.8" y="29.1" fill="#2b5fe0" textLength="29" lengthAdjust="spacingAndGlyphs">1.33335</text>
<text x="5.6" y="44.2" fill="#d4d4d4" textLength="56.2" lengthAdjust="spacingAndGlyphs">MA Cross Count</text>
<text x="63.4" y="44.2" fill="#9a9a9a" textLength="9.4" lengthAdjust="spacingAndGlyphs">20</text>
<text x="77.9" y="44.2" fill="#e0393f" textLength="29.4" lengthAdjust="spacingAndGlyphs">1.33720</text>
<text x="110.8" y="44.2" fill="#2b5fe0" textLength="28.8" lengthAdjust="spacingAndGlyphs">1.33335</text>
</g>
<rect x="6.5" y="51.2" width="18" height="12.9" rx="2" fill="#050505" fill-opacity="0.7" stroke="#333" stroke-width="0.8"/>
<path d="M12.6,59 L15,56.6 L17.4,59" fill="none" stroke="#cfcfcf" stroke-width="1"/>
<!-- USD -->
<rect x="987" y="3.3" width="33.5" height="16" rx="3.5" fill="#0f0f0f" stroke="#2c2c2c" stroke-width="1"/>
<text x="989" y="14" font-size="8.2" fill="#dcdcdc" class="t" textLength="13.4" lengthAdjust="spacingAndGlyphs">USD</text>
<path d="M1014,10.3 L1016,12 L1018,10.3" fill="none" stroke="#dcdcdc" stroke-width="1"/>
<!-- cursor tools -->
<rect x="0" y="330" width="13.7" height="17.8" fill="#2ab8e8"/>
<rect x="13.7" y="330" width="18.8" height="17.8" fill="#6e6e6e"/>
<path d="M0.3,333.2 L10.2,336.6 L6.6,338.2 L9.8,341.9 L8.4,343.3 L5.2,339.6 L3.2,343.2 Z" fill="#eeeeee"/>
<path d="M26.6,338.7 A5,5 0 1 0 21.4,342.4" fill="none" stroke="#e8e8e8" stroke-width="1.2"/>
<path d="M23.2,338.2 L29.6,340.4 L27.4,341.5 L29.3,343.8 L28.2,344.8 L26.3,342.5 L25,344.6 Z" fill="#f0f0f0" stroke="#6e6e6e" stroke-width="0.5"/>
<!-- TV logo -->
<path d="M8.1,544.1 H15.3 V553.1 H12 V547.2 H8.1 Z" fill="#e6e6e6"/>
<circle cx="18.6" cy="545.6" r="1.65" fill="#e6e6e6"/>
<path d="M22.5,544.1 H26.7 L23,553.1 H19 Z" fill="#e6e6e6"/>
<!-- bottom bar -->
<rect x="0" y="579.7" width="1024" height="18" fill="#111111"/>
<rect x="0" y="579.7" width="1024" height="1.2" fill="#1c1c1c"/>
<g font-size="8.2" fill="#d0d0d0" class="t">
<text x="9.9" y="595.6">1日</text><text x="30.5" y="595.6">5日</text><text x="52" y="595.6">1ヶ月</text>
<text x="81.9" y="595.6">3ヶ月</text><text x="111.7" y="595.6">6ヶ月</text><text x="141.7" y="595.6">年初来</text>
<text x="176.5" y="595.6">1年</text><text x="197.6" y="595.6">5年</text><text x="219" y="595.6">すべて</text>
</g>
<rect x="251" y="583" width="0.8" height="14" fill="#3a3a3a"/>
<path d="M260,586 H271 V597 M260,586 V597 M260,589.5 H271 M263,584 V587.5 M268,584 V587.5" fill="none" stroke="#cfcfcf" stroke-width="0.9"/>
<rect x="548.8" y="580.6" width="207.5" height="20" rx="4" fill="#1f1f1f"/>
<g fill="#5a5a5a"><circle cx="555" cy="590" r="0.7"/><circle cx="558" cy="590" r="0.7"/><circle cx="555" cy="593" r="0.7"/><circle cx="558" cy="593" r="0.7"/><circle cx="555" cy="596" r="0.7"/><circle cx="558" cy="596" r="0.7"/></g>
<g fill="#1f1f1f" stroke="#cfcfcf" stroke-width="0.9">
<path d="M570,598 L580.5,587.5" fill="none"/><circle cx="581.5" cy="586.6" r="1.3"/>
<path d="M593.5,592.8 H607" fill="none"/><circle cx="600.3" cy="592.8" r="1.3"/>
<path d="M620.3,592.8 H631" fill="none"/><circle cx="619" cy="592.8" r="1.3"/>
<path d="M648.3,586 V598" fill="none"/><circle cx="648.3" cy="592.8" r="1.2"/>
<path d="M667,599 C667.5,594 669,592 671,591.5 C673,591 674,590 673.5,588.5 M674.5,590 C676,589.5 677,588 678.5,587" fill="none"/>
<path d="M690.8,587 V598 M703.2,587 V598 M690.8,586.8 H703.2" fill="none"/><circle cx="690.8" cy="586.8" r="1.2"/><circle cx="703.2" cy="586.8" r="1.2"/>
<circle cx="721.5" cy="592.5" r="5.5" fill="none"/><circle cx="721.5" cy="592.5" r="1.1"/><path d="M727,591.5 L728.5,592.8 L727,594" fill="none"/>
<path d="M739.5,598 L745,589 L748,586.5 M743,593 L748.5,598 M744,591.5 L751.5,585.5" fill="none"/>
</g>
<text x="1016.5" y="595" font-size="8.7" fill="#dcdcdc" text-anchor="end" class="t">19:20:22 UTC+9</text>
<!-- settings gear -->
<path d="M1000.6,567 L1006.6,567 L1009.4,571.8 L1006.6,576.6 L1000.6,576.6 L997.8,571.8 Z" fill="none" stroke="#cfcfcf" stroke-width="0.9"/>
<circle cx="1003.6" cy="571.8" r="1.6" fill="none" stroke="#cfcfcf" stroke-width="0.9"/>
</svg>
</body></html>
